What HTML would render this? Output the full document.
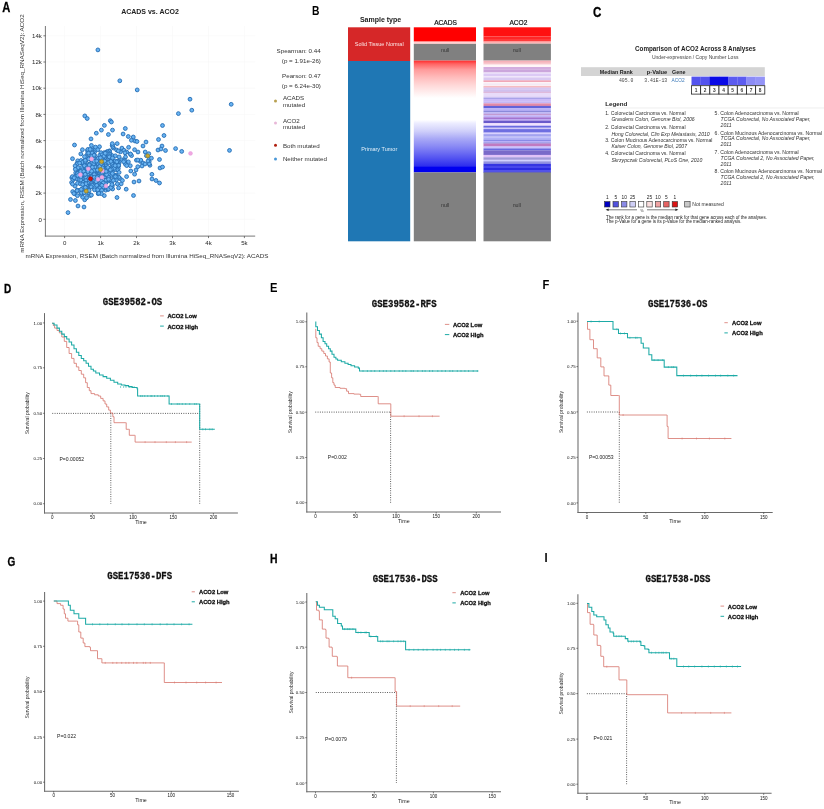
<!DOCTYPE html>
<html lang="en"><head><meta charset="utf-8"><title>ACO2 figure</title>
<style>html,body{margin:0;padding:0;background:#fff;}svg{display:block;font-family:"Liberation Sans",sans-serif;}</style>
</head><body>
<svg width="824" height="809" viewBox="0 0 824 809">
<defs><linearGradient id="gA" x1="0" y1="0" x2="0" y2="1">
<stop offset="0" stop-color="#ff2c2c"/>
<stop offset="0.03" stop-color="#ff6464"/>
<stop offset="0.08" stop-color="#ff9a9a"/>
<stop offset="0.15" stop-color="#ffbcbc"/>
<stop offset="0.22" stop-color="#ffd8d8"/>
<stop offset="0.29" stop-color="#fff0f0"/>
<stop offset="0.335" stop-color="#ffffff"/>
<stop offset="0.53" stop-color="#ffffff"/>
<stop offset="0.56" stop-color="#ececff"/>
<stop offset="0.63" stop-color="#d0d0fa"/>
<stop offset="0.7" stop-color="#a8a8f6"/>
<stop offset="0.77" stop-color="#8888f4"/>
<stop offset="0.84" stop-color="#6464f2"/>
<stop offset="0.9" stop-color="#4444f0"/>
<stop offset="0.945" stop-color="#2c2cee"/>
<stop offset="0.952" stop-color="#0000f0"/>
<stop offset="1" stop-color="#0000ee"/>
</linearGradient></defs>
<rect width="824" height="809" fill="#fff"/>
<g id="panelA">
<text transform="translate(2.2,12.1) scale(0.77,1)" font-size="14.5" font-weight="bold" fill="#000" stroke="#000" stroke-width="0.3">A</text>
<text x="150.0" y="14.0" font-size="7" text-anchor="middle" font-weight="bold" fill="#222">ACADS vs. ACO2</text>
<line x1="64.6" y1="26.0" x2="64.6" y2="236.1" stroke="#f6f6f6" stroke-width="0.6"/>
<line x1="100.6" y1="26.0" x2="100.6" y2="236.1" stroke="#f6f6f6" stroke-width="0.6"/>
<line x1="136.5" y1="26.0" x2="136.5" y2="236.1" stroke="#f6f6f6" stroke-width="0.6"/>
<line x1="172.5" y1="26.0" x2="172.5" y2="236.1" stroke="#f6f6f6" stroke-width="0.6"/>
<line x1="208.5" y1="26.0" x2="208.5" y2="236.1" stroke="#f6f6f6" stroke-width="0.6"/>
<line x1="244.4" y1="26.0" x2="244.4" y2="236.1" stroke="#f6f6f6" stroke-width="0.6"/>
<line x1="45.4" y1="219.3" x2="255.2" y2="219.3" stroke="#f6f6f6" stroke-width="0.6"/>
<line x1="45.4" y1="193.1" x2="255.2" y2="193.1" stroke="#f6f6f6" stroke-width="0.6"/>
<line x1="45.4" y1="166.9" x2="255.2" y2="166.9" stroke="#f6f6f6" stroke-width="0.6"/>
<line x1="45.4" y1="140.6" x2="255.2" y2="140.6" stroke="#f6f6f6" stroke-width="0.6"/>
<line x1="45.4" y1="114.4" x2="255.2" y2="114.4" stroke="#f6f6f6" stroke-width="0.6"/>
<line x1="45.4" y1="88.2" x2="255.2" y2="88.2" stroke="#f6f6f6" stroke-width="0.6"/>
<line x1="45.4" y1="62.0" x2="255.2" y2="62.0" stroke="#f6f6f6" stroke-width="0.6"/>
<line x1="45.4" y1="35.8" x2="255.2" y2="35.8" stroke="#f6f6f6" stroke-width="0.6"/>
<line x1="45.4" y1="26.0" x2="45.4" y2="236.6" stroke="#606060" stroke-width="0.85"/>
<line x1="44.9" y1="236.1" x2="255.2" y2="236.1" stroke="#606060" stroke-width="0.85"/>
<line x1="43.4" y1="219.3" x2="45.4" y2="219.3" stroke="#444" stroke-width="0.7"/>
<text x="41.9" y="221.5" font-size="6.1" text-anchor="end" fill="#2a2a2a">0</text>
<line x1="43.4" y1="193.1" x2="45.4" y2="193.1" stroke="#444" stroke-width="0.7"/>
<text x="41.9" y="195.3" font-size="6.1" text-anchor="end" fill="#2a2a2a">2k</text>
<line x1="43.4" y1="166.9" x2="45.4" y2="166.9" stroke="#444" stroke-width="0.7"/>
<text x="41.9" y="169.1" font-size="6.1" text-anchor="end" fill="#2a2a2a">4k</text>
<line x1="43.4" y1="140.6" x2="45.4" y2="140.6" stroke="#444" stroke-width="0.7"/>
<text x="41.9" y="142.8" font-size="6.1" text-anchor="end" fill="#2a2a2a">6k</text>
<line x1="43.4" y1="114.4" x2="45.4" y2="114.4" stroke="#444" stroke-width="0.7"/>
<text x="41.9" y="116.6" font-size="6.1" text-anchor="end" fill="#2a2a2a">8k</text>
<line x1="43.4" y1="88.2" x2="45.4" y2="88.2" stroke="#444" stroke-width="0.7"/>
<text x="41.9" y="90.4" font-size="6.1" text-anchor="end" fill="#2a2a2a">10k</text>
<line x1="43.4" y1="62.0" x2="45.4" y2="62.0" stroke="#444" stroke-width="0.7"/>
<text x="41.9" y="64.2" font-size="6.1" text-anchor="end" fill="#2a2a2a">12k</text>
<line x1="43.4" y1="35.8" x2="45.4" y2="35.8" stroke="#444" stroke-width="0.7"/>
<text x="41.9" y="38.0" font-size="6.1" text-anchor="end" fill="#2a2a2a">14k</text>
<line x1="64.6" y1="236.1" x2="64.6" y2="238.1" stroke="#444" stroke-width="0.7"/>
<text x="64.6" y="244.7" font-size="6.1" text-anchor="middle" fill="#2a2a2a">0</text>
<line x1="100.6" y1="236.1" x2="100.6" y2="238.1" stroke="#444" stroke-width="0.7"/>
<text x="100.6" y="244.7" font-size="6.1" text-anchor="middle" fill="#2a2a2a">1k</text>
<line x1="136.5" y1="236.1" x2="136.5" y2="238.1" stroke="#444" stroke-width="0.7"/>
<text x="136.5" y="244.7" font-size="6.1" text-anchor="middle" fill="#2a2a2a">2k</text>
<line x1="172.5" y1="236.1" x2="172.5" y2="238.1" stroke="#444" stroke-width="0.7"/>
<text x="172.5" y="244.7" font-size="6.1" text-anchor="middle" fill="#2a2a2a">3k</text>
<line x1="208.5" y1="236.1" x2="208.5" y2="238.1" stroke="#444" stroke-width="0.7"/>
<text x="208.5" y="244.7" font-size="6.1" text-anchor="middle" fill="#2a2a2a">4k</text>
<line x1="244.4" y1="236.1" x2="244.4" y2="238.1" stroke="#444" stroke-width="0.7"/>
<text x="244.4" y="244.7" font-size="6.1" text-anchor="middle" fill="#2a2a2a">5k</text>
<text x="147.0" y="257.8" font-size="6.25" text-anchor="middle" fill="#333">mRNA Expression, RSEM (Batch normalized from Illumina HiSeq_RNASeqV2): ACADS</text>
<text transform="translate(23.6,133.5) rotate(-90)" font-size="6.25" text-anchor="middle" fill="#333">mRNA Expression, RSEM (Batch normalized from Illumina HiSeq_RNASeqV2): ACO2</text>
<g fill="#68b3f2" stroke="#2a71b6" stroke-width="0.95">
<circle cx="77.5" cy="183.3" r="1.9"/>
<circle cx="111.9" cy="161.0" r="1.9"/>
<circle cx="75.9" cy="177.8" r="1.9"/>
<circle cx="103.9" cy="185.2" r="1.9"/>
<circle cx="77.7" cy="160.8" r="1.9"/>
<circle cx="107.4" cy="175.7" r="1.9"/>
<circle cx="120.3" cy="178.7" r="1.9"/>
<circle cx="94.9" cy="169.3" r="1.9"/>
<circle cx="84.3" cy="160.8" r="1.9"/>
<circle cx="98.0" cy="174.1" r="1.9"/>
<circle cx="91.2" cy="173.3" r="1.9"/>
<circle cx="100.7" cy="180.6" r="1.9"/>
<circle cx="113.5" cy="170.3" r="1.9"/>
<circle cx="74.5" cy="176.8" r="1.9"/>
<circle cx="73.7" cy="179.4" r="1.9"/>
<circle cx="84.4" cy="179.1" r="1.9"/>
<circle cx="109.6" cy="150.8" r="1.9"/>
<circle cx="92.0" cy="182.8" r="1.9"/>
<circle cx="95.1" cy="178.0" r="1.9"/>
<circle cx="98.1" cy="158.5" r="1.9"/>
<circle cx="105.2" cy="159.0" r="1.9"/>
<circle cx="125.5" cy="157.0" r="1.9"/>
<circle cx="107.1" cy="169.4" r="1.9"/>
<circle cx="111.3" cy="160.0" r="1.9"/>
<circle cx="112.0" cy="166.2" r="1.9"/>
<circle cx="116.1" cy="175.1" r="1.9"/>
<circle cx="98.7" cy="161.4" r="1.9"/>
<circle cx="108.4" cy="175.3" r="1.9"/>
<circle cx="121.9" cy="159.8" r="1.9"/>
<circle cx="105.1" cy="176.8" r="1.9"/>
<circle cx="100.9" cy="174.0" r="1.9"/>
<circle cx="99.3" cy="163.6" r="1.9"/>
<circle cx="80.8" cy="171.9" r="1.9"/>
<circle cx="105.7" cy="190.2" r="1.9"/>
<circle cx="111.6" cy="182.2" r="1.9"/>
<circle cx="108.5" cy="178.4" r="1.9"/>
<circle cx="99.3" cy="182.1" r="1.9"/>
<circle cx="124.0" cy="159.9" r="1.9"/>
<circle cx="100.3" cy="184.5" r="1.9"/>
<circle cx="110.0" cy="153.2" r="1.9"/>
<circle cx="99.2" cy="181.9" r="1.9"/>
<circle cx="98.5" cy="160.0" r="1.9"/>
<circle cx="94.8" cy="178.1" r="1.9"/>
<circle cx="113.8" cy="176.9" r="1.9"/>
<circle cx="97.4" cy="190.6" r="1.9"/>
<circle cx="84.7" cy="186.8" r="1.9"/>
<circle cx="113.7" cy="163.4" r="1.9"/>
<circle cx="100.2" cy="178.6" r="1.9"/>
<circle cx="120.5" cy="151.8" r="1.9"/>
<circle cx="96.5" cy="181.3" r="1.9"/>
<circle cx="112.1" cy="155.5" r="1.9"/>
<circle cx="90.1" cy="177.5" r="1.9"/>
<circle cx="98.3" cy="193.0" r="1.9"/>
<circle cx="85.9" cy="169.3" r="1.9"/>
<circle cx="107.7" cy="188.4" r="1.9"/>
<circle cx="106.6" cy="173.6" r="1.9"/>
<circle cx="87.0" cy="168.2" r="1.9"/>
<circle cx="105.6" cy="165.3" r="1.9"/>
<circle cx="108.7" cy="170.0" r="1.9"/>
<circle cx="91.3" cy="175.7" r="1.9"/>
<circle cx="103.1" cy="182.1" r="1.9"/>
<circle cx="89.1" cy="171.6" r="1.9"/>
<circle cx="75.4" cy="200.5" r="1.9"/>
<circle cx="119.0" cy="163.4" r="1.9"/>
<circle cx="89.1" cy="158.1" r="1.9"/>
<circle cx="99.1" cy="174.5" r="1.9"/>
<circle cx="130.3" cy="165.7" r="1.9"/>
<circle cx="118.3" cy="168.6" r="1.9"/>
<circle cx="71.6" cy="182.5" r="1.9"/>
<circle cx="113.8" cy="175.1" r="1.9"/>
<circle cx="94.5" cy="152.2" r="1.9"/>
<circle cx="82.4" cy="193.2" r="1.9"/>
<circle cx="122.0" cy="149.0" r="1.9"/>
<circle cx="72.7" cy="191.6" r="1.9"/>
<circle cx="109.7" cy="155.3" r="1.9"/>
<circle cx="85.7" cy="166.4" r="1.9"/>
<circle cx="78.1" cy="168.9" r="1.9"/>
<circle cx="115.9" cy="176.0" r="1.9"/>
<circle cx="128.4" cy="161.8" r="1.9"/>
<circle cx="94.4" cy="159.9" r="1.9"/>
<circle cx="94.6" cy="155.4" r="1.9"/>
<circle cx="118.8" cy="177.2" r="1.9"/>
<circle cx="117.2" cy="169.8" r="1.9"/>
<circle cx="85.4" cy="177.1" r="1.9"/>
<circle cx="90.7" cy="159.3" r="1.9"/>
<circle cx="96.4" cy="174.6" r="1.9"/>
<circle cx="89.1" cy="194.0" r="1.9"/>
<circle cx="99.3" cy="179.6" r="1.9"/>
<circle cx="115.4" cy="155.8" r="1.9"/>
<circle cx="85.8" cy="193.4" r="1.9"/>
<circle cx="101.7" cy="184.6" r="1.9"/>
<circle cx="107.6" cy="160.1" r="1.9"/>
<circle cx="84.8" cy="170.2" r="1.9"/>
<circle cx="108.4" cy="180.9" r="1.9"/>
<circle cx="112.2" cy="145.4" r="1.9"/>
<circle cx="94.9" cy="181.1" r="1.9"/>
<circle cx="84.7" cy="179.4" r="1.9"/>
<circle cx="100.1" cy="185.1" r="1.9"/>
<circle cx="83.8" cy="165.2" r="1.9"/>
<circle cx="84.7" cy="199.8" r="1.9"/>
<circle cx="113.4" cy="165.8" r="1.9"/>
<circle cx="100.0" cy="173.0" r="1.9"/>
<circle cx="99.6" cy="168.8" r="1.9"/>
<circle cx="91.3" cy="157.1" r="1.9"/>
<circle cx="86.6" cy="197.8" r="1.9"/>
<circle cx="104.8" cy="170.9" r="1.9"/>
<circle cx="93.2" cy="174.4" r="1.9"/>
<circle cx="102.0" cy="162.2" r="1.9"/>
<circle cx="99.5" cy="174.9" r="1.9"/>
<circle cx="84.9" cy="165.4" r="1.9"/>
<circle cx="81.0" cy="162.8" r="1.9"/>
<circle cx="92.4" cy="165.5" r="1.9"/>
<circle cx="86.9" cy="176.7" r="1.9"/>
<circle cx="114.0" cy="168.3" r="1.9"/>
<circle cx="94.3" cy="164.9" r="1.9"/>
<circle cx="94.5" cy="185.5" r="1.9"/>
<circle cx="90.4" cy="158.9" r="1.9"/>
<circle cx="76.9" cy="163.5" r="1.9"/>
<circle cx="75.0" cy="193.9" r="1.9"/>
<circle cx="102.0" cy="167.7" r="1.9"/>
<circle cx="119.1" cy="156.9" r="1.9"/>
<circle cx="108.2" cy="179.9" r="1.9"/>
<circle cx="72.5" cy="158.7" r="1.9"/>
<circle cx="82.1" cy="189.1" r="1.9"/>
<circle cx="116.6" cy="150.0" r="1.9"/>
<circle cx="112.8" cy="162.5" r="1.9"/>
<circle cx="90.4" cy="166.9" r="1.9"/>
<circle cx="91.5" cy="149.5" r="1.9"/>
<circle cx="81.0" cy="160.5" r="1.9"/>
<circle cx="105.4" cy="160.1" r="1.9"/>
<circle cx="111.0" cy="175.4" r="1.9"/>
<circle cx="92.8" cy="173.9" r="1.9"/>
<circle cx="98.5" cy="167.4" r="1.9"/>
<circle cx="99.4" cy="163.8" r="1.9"/>
<circle cx="82.6" cy="197.2" r="1.9"/>
<circle cx="102.1" cy="176.8" r="1.9"/>
<circle cx="71.8" cy="177.7" r="1.9"/>
<circle cx="109.2" cy="151.3" r="1.9"/>
<circle cx="113.5" cy="162.2" r="1.9"/>
<circle cx="102.7" cy="168.9" r="1.9"/>
<circle cx="99.9" cy="187.8" r="1.9"/>
<circle cx="90.2" cy="195.5" r="1.9"/>
<circle cx="84.4" cy="163.6" r="1.9"/>
<circle cx="107.5" cy="154.9" r="1.9"/>
<circle cx="90.8" cy="186.5" r="1.9"/>
<circle cx="104.3" cy="195.6" r="1.9"/>
<circle cx="115.0" cy="163.8" r="1.9"/>
<circle cx="87.2" cy="171.3" r="1.9"/>
<circle cx="78.6" cy="174.3" r="1.9"/>
<circle cx="93.6" cy="171.5" r="1.9"/>
<circle cx="114.8" cy="163.9" r="1.9"/>
<circle cx="73.9" cy="193.5" r="1.9"/>
<circle cx="79.9" cy="171.5" r="1.9"/>
<circle cx="94.4" cy="168.5" r="1.9"/>
<circle cx="81.0" cy="173.9" r="1.9"/>
<circle cx="130.4" cy="154.2" r="1.9"/>
<circle cx="94.4" cy="188.4" r="1.9"/>
<circle cx="108.0" cy="179.4" r="1.9"/>
<circle cx="83.1" cy="178.3" r="1.9"/>
<circle cx="104.2" cy="187.7" r="1.9"/>
<circle cx="103.8" cy="167.1" r="1.9"/>
<circle cx="97.1" cy="169.5" r="1.9"/>
<circle cx="100.3" cy="180.5" r="1.9"/>
<circle cx="91.2" cy="163.1" r="1.9"/>
<circle cx="83.3" cy="191.3" r="1.9"/>
<circle cx="116.4" cy="180.0" r="1.9"/>
<circle cx="109.8" cy="179.8" r="1.9"/>
<circle cx="96.5" cy="181.5" r="1.9"/>
<circle cx="80.2" cy="174.7" r="1.9"/>
<circle cx="85.1" cy="185.8" r="1.9"/>
<circle cx="87.5" cy="173.8" r="1.9"/>
<circle cx="102.7" cy="189.0" r="1.9"/>
<circle cx="84.2" cy="163.6" r="1.9"/>
<circle cx="109.2" cy="153.8" r="1.9"/>
<circle cx="103.5" cy="162.8" r="1.9"/>
<circle cx="94.9" cy="148.5" r="1.9"/>
<circle cx="107.6" cy="162.5" r="1.9"/>
<circle cx="102.8" cy="166.0" r="1.9"/>
<circle cx="98.2" cy="193.7" r="1.9"/>
<circle cx="96.1" cy="178.8" r="1.9"/>
<circle cx="104.5" cy="157.9" r="1.9"/>
<circle cx="98.5" cy="165.2" r="1.9"/>
<circle cx="77.2" cy="190.1" r="1.9"/>
<circle cx="106.8" cy="170.5" r="1.9"/>
<circle cx="82.4" cy="149.7" r="1.9"/>
<circle cx="104.0" cy="169.0" r="1.9"/>
<circle cx="72.9" cy="179.3" r="1.9"/>
<circle cx="98.7" cy="176.7" r="1.9"/>
<circle cx="99.9" cy="173.8" r="1.9"/>
<circle cx="78.8" cy="172.7" r="1.9"/>
<circle cx="88.6" cy="171.7" r="1.9"/>
<circle cx="100.7" cy="179.7" r="1.9"/>
<circle cx="102.7" cy="168.0" r="1.9"/>
<circle cx="88.4" cy="188.4" r="1.9"/>
<circle cx="80.1" cy="176.1" r="1.9"/>
<circle cx="94.5" cy="171.9" r="1.9"/>
<circle cx="87.4" cy="150.5" r="1.9"/>
<circle cx="103.6" cy="183.9" r="1.9"/>
<circle cx="95.4" cy="159.1" r="1.9"/>
<circle cx="99.6" cy="179.2" r="1.9"/>
<circle cx="93.8" cy="173.2" r="1.9"/>
<circle cx="118.3" cy="150.9" r="1.9"/>
<circle cx="87.9" cy="149.4" r="1.9"/>
<circle cx="85.7" cy="165.8" r="1.9"/>
<circle cx="81.6" cy="167.6" r="1.9"/>
<circle cx="124.4" cy="161.5" r="1.9"/>
<circle cx="95.6" cy="149.4" r="1.9"/>
<circle cx="102.7" cy="158.0" r="1.9"/>
<circle cx="121.9" cy="148.1" r="1.9"/>
<circle cx="87.5" cy="153.6" r="1.9"/>
<circle cx="98.0" cy="158.4" r="1.9"/>
<circle cx="95.5" cy="167.8" r="1.9"/>
<circle cx="87.0" cy="188.1" r="1.9"/>
<circle cx="111.0" cy="169.0" r="1.9"/>
<circle cx="82.5" cy="162.3" r="1.9"/>
<circle cx="89.4" cy="164.1" r="1.9"/>
<circle cx="85.7" cy="161.0" r="1.9"/>
<circle cx="81.4" cy="174.3" r="1.9"/>
<circle cx="118.7" cy="165.9" r="1.9"/>
<circle cx="88.6" cy="153.1" r="1.9"/>
<circle cx="99.8" cy="171.2" r="1.9"/>
<circle cx="77.5" cy="163.6" r="1.9"/>
<circle cx="95.8" cy="186.4" r="1.9"/>
<circle cx="106.2" cy="172.4" r="1.9"/>
<circle cx="91.5" cy="178.4" r="1.9"/>
<circle cx="78.9" cy="172.8" r="1.9"/>
<circle cx="116.2" cy="163.1" r="1.9"/>
<circle cx="118.6" cy="165.3" r="1.9"/>
<circle cx="98.8" cy="166.9" r="1.9"/>
<circle cx="75.1" cy="165.9" r="1.9"/>
<circle cx="130.8" cy="171.0" r="1.9"/>
<circle cx="105.9" cy="182.6" r="1.9"/>
<circle cx="105.3" cy="183.7" r="1.9"/>
<circle cx="92.4" cy="170.8" r="1.9"/>
<circle cx="111.7" cy="163.2" r="1.9"/>
<circle cx="75.9" cy="175.7" r="1.9"/>
<circle cx="88.1" cy="183.4" r="1.9"/>
<circle cx="85.3" cy="161.6" r="1.9"/>
<circle cx="91.4" cy="195.1" r="1.9"/>
<circle cx="95.8" cy="174.9" r="1.9"/>
<circle cx="96.6" cy="176.5" r="1.9"/>
<circle cx="110.9" cy="187.1" r="1.9"/>
<circle cx="96.4" cy="168.2" r="1.9"/>
<circle cx="126.6" cy="176.6" r="1.9"/>
<circle cx="80.5" cy="183.9" r="1.9"/>
<circle cx="107.9" cy="167.4" r="1.9"/>
<circle cx="93.5" cy="158.5" r="1.9"/>
<circle cx="124.8" cy="160.8" r="1.9"/>
<circle cx="90.4" cy="170.3" r="1.9"/>
<circle cx="84.4" cy="165.7" r="1.9"/>
<circle cx="98.0" cy="176.3" r="1.9"/>
<circle cx="88.6" cy="173.7" r="1.9"/>
<circle cx="75.0" cy="186.1" r="1.9"/>
<circle cx="84.9" cy="178.9" r="1.9"/>
<circle cx="82.4" cy="169.8" r="1.9"/>
<circle cx="99.8" cy="155.2" r="1.9"/>
<circle cx="95.4" cy="163.0" r="1.9"/>
<circle cx="121.2" cy="183.8" r="1.9"/>
<circle cx="101.1" cy="152.7" r="1.9"/>
<circle cx="88.7" cy="183.2" r="1.9"/>
<circle cx="88.6" cy="158.9" r="1.9"/>
<circle cx="78.1" cy="167.7" r="1.9"/>
<circle cx="96.7" cy="163.7" r="1.9"/>
<circle cx="124.0" cy="150.3" r="1.9"/>
<circle cx="101.8" cy="172.1" r="1.9"/>
<circle cx="94.4" cy="187.3" r="1.9"/>
<circle cx="91.4" cy="169.7" r="1.9"/>
<circle cx="90.7" cy="172.9" r="1.9"/>
<circle cx="116.4" cy="177.1" r="1.9"/>
<circle cx="75.7" cy="172.8" r="1.9"/>
<circle cx="84.1" cy="187.3" r="1.9"/>
<circle cx="100.0" cy="183.5" r="1.9"/>
<circle cx="95.5" cy="147.1" r="1.9"/>
<circle cx="103.5" cy="173.5" r="1.9"/>
<circle cx="104.4" cy="152.6" r="1.9"/>
<circle cx="97.8" cy="162.9" r="1.9"/>
<circle cx="85.9" cy="180.5" r="1.9"/>
<circle cx="102.0" cy="158.9" r="1.9"/>
<circle cx="87.6" cy="190.4" r="1.9"/>
<circle cx="83.1" cy="182.3" r="1.9"/>
<circle cx="122.4" cy="180.5" r="1.9"/>
<circle cx="102.2" cy="173.5" r="1.9"/>
<circle cx="80.1" cy="171.4" r="1.9"/>
<circle cx="91.3" cy="163.6" r="1.9"/>
<circle cx="97.5" cy="167.0" r="1.9"/>
<circle cx="101.7" cy="190.3" r="1.9"/>
<circle cx="108.0" cy="174.7" r="1.9"/>
<circle cx="92.8" cy="153.2" r="1.9"/>
<circle cx="94.7" cy="180.4" r="1.9"/>
<circle cx="80.9" cy="194.2" r="1.9"/>
<circle cx="91.3" cy="179.1" r="1.9"/>
<circle cx="91.4" cy="157.1" r="1.9"/>
<circle cx="128.6" cy="147.3" r="1.9"/>
<circle cx="110.7" cy="160.8" r="1.9"/>
<circle cx="100.8" cy="160.4" r="1.9"/>
<circle cx="90.0" cy="186.9" r="1.9"/>
<circle cx="126.7" cy="152.1" r="1.9"/>
<circle cx="96.7" cy="185.3" r="1.9"/>
<circle cx="86.7" cy="185.1" r="1.9"/>
<circle cx="84.3" cy="184.4" r="1.9"/>
<circle cx="103.3" cy="186.9" r="1.9"/>
<circle cx="102.1" cy="154.8" r="1.9"/>
<circle cx="106.8" cy="154.6" r="1.9"/>
<circle cx="108.1" cy="189.5" r="1.9"/>
<circle cx="105.7" cy="162.3" r="1.9"/>
<circle cx="115.0" cy="169.3" r="1.9"/>
<circle cx="77.2" cy="173.6" r="1.9"/>
<circle cx="118.5" cy="161.8" r="1.9"/>
<circle cx="98.4" cy="167.4" r="1.9"/>
<circle cx="102.0" cy="173.7" r="1.9"/>
<circle cx="115.4" cy="176.6" r="1.9"/>
<circle cx="112.4" cy="185.3" r="1.9"/>
<circle cx="89.6" cy="166.5" r="1.9"/>
<circle cx="101.4" cy="193.7" r="1.9"/>
<circle cx="85.4" cy="183.4" r="1.9"/>
<circle cx="119.2" cy="161.7" r="1.9"/>
<circle cx="77.3" cy="179.0" r="1.9"/>
<circle cx="92.1" cy="153.0" r="1.9"/>
<circle cx="110.2" cy="161.4" r="1.9"/>
<circle cx="107.1" cy="151.6" r="1.9"/>
<circle cx="113.5" cy="148.0" r="1.9"/>
<circle cx="117.9" cy="161.1" r="1.9"/>
<circle cx="72.4" cy="176.6" r="1.9"/>
<circle cx="101.7" cy="157.6" r="1.9"/>
<circle cx="88.9" cy="178.5" r="1.9"/>
<circle cx="89.8" cy="180.3" r="1.9"/>
<circle cx="101.1" cy="184.8" r="1.9"/>
<circle cx="108.9" cy="173.0" r="1.9"/>
<circle cx="113.3" cy="180.4" r="1.9"/>
<circle cx="98.1" cy="163.7" r="1.9"/>
<circle cx="112.4" cy="173.5" r="1.9"/>
<circle cx="103.7" cy="171.8" r="1.9"/>
<circle cx="100.8" cy="179.9" r="1.9"/>
<circle cx="98.8" cy="193.2" r="1.9"/>
<circle cx="87.4" cy="169.9" r="1.9"/>
<circle cx="101.5" cy="181.1" r="1.9"/>
<circle cx="108.7" cy="189.0" r="1.9"/>
<circle cx="89.1" cy="190.5" r="1.9"/>
<circle cx="103.8" cy="156.3" r="1.9"/>
<circle cx="108.7" cy="162.6" r="1.9"/>
<circle cx="85.6" cy="176.9" r="1.9"/>
<circle cx="101.4" cy="158.5" r="1.9"/>
<circle cx="78.1" cy="175.3" r="1.9"/>
<circle cx="90.2" cy="166.1" r="1.9"/>
<circle cx="114.0" cy="168.3" r="1.9"/>
<circle cx="77.4" cy="195.7" r="1.9"/>
<circle cx="91.7" cy="156.1" r="1.9"/>
<circle cx="101.5" cy="177.6" r="1.9"/>
<circle cx="91.3" cy="183.5" r="1.9"/>
<circle cx="109.2" cy="156.8" r="1.9"/>
<circle cx="94.5" cy="189.8" r="1.9"/>
<circle cx="112.0" cy="186.7" r="1.9"/>
<circle cx="125.3" cy="164.1" r="1.9"/>
<circle cx="112.9" cy="147.0" r="1.9"/>
<circle cx="107.2" cy="174.6" r="1.9"/>
<circle cx="95.0" cy="167.0" r="1.9"/>
<circle cx="79.2" cy="179.6" r="1.9"/>
<circle cx="116.3" cy="161.7" r="1.9"/>
<circle cx="104.7" cy="161.1" r="1.9"/>
<circle cx="100.4" cy="157.8" r="1.9"/>
<circle cx="102.4" cy="167.8" r="1.9"/>
<circle cx="101.4" cy="162.9" r="1.9"/>
<circle cx="78.3" cy="173.6" r="1.9"/>
<circle cx="112.6" cy="189.0" r="1.9"/>
<circle cx="91.5" cy="184.9" r="1.9"/>
<circle cx="108.3" cy="174.3" r="1.9"/>
<circle cx="72.5" cy="184.1" r="1.9"/>
<circle cx="81.5" cy="192.9" r="1.9"/>
<circle cx="108.7" cy="177.2" r="1.9"/>
<circle cx="107.3" cy="152.0" r="1.9"/>
<circle cx="111.5" cy="169.1" r="1.9"/>
<circle cx="93.7" cy="163.8" r="1.9"/>
<circle cx="80.7" cy="171.4" r="1.9"/>
<circle cx="99.7" cy="162.8" r="1.9"/>
<circle cx="86.9" cy="168.0" r="1.9"/>
<circle cx="82.8" cy="188.5" r="1.9"/>
<circle cx="92.3" cy="185.5" r="1.9"/>
<circle cx="78.6" cy="190.5" r="1.9"/>
<circle cx="96.1" cy="181.7" r="1.9"/>
<circle cx="94.9" cy="161.0" r="1.9"/>
<circle cx="115.3" cy="161.0" r="1.9"/>
<circle cx="94.2" cy="161.3" r="1.9"/>
<circle cx="99.7" cy="166.3" r="1.9"/>
<circle cx="100.9" cy="175.9" r="1.9"/>
<circle cx="85.8" cy="156.7" r="1.9"/>
<circle cx="103.2" cy="182.9" r="1.9"/>
<circle cx="107.3" cy="153.8" r="1.9"/>
<circle cx="105.9" cy="174.9" r="1.9"/>
<circle cx="100.9" cy="177.0" r="1.9"/>
<circle cx="91.5" cy="177.0" r="1.9"/>
<circle cx="110.9" cy="161.4" r="1.9"/>
<circle cx="74.2" cy="177.8" r="1.9"/>
<circle cx="99.5" cy="146.7" r="1.9"/>
<circle cx="86.0" cy="183.7" r="1.9"/>
<circle cx="94.2" cy="174.5" r="1.9"/>
<circle cx="77.0" cy="190.6" r="1.9"/>
<circle cx="123.7" cy="161.7" r="1.9"/>
<circle cx="85.2" cy="160.3" r="1.9"/>
<circle cx="110.3" cy="169.8" r="1.9"/>
<circle cx="84.2" cy="192.6" r="1.9"/>
<circle cx="108.4" cy="177.1" r="1.9"/>
<circle cx="106.2" cy="153.1" r="1.9"/>
<circle cx="110.9" cy="187.5" r="1.9"/>
<circle cx="112.5" cy="158.0" r="1.9"/>
<circle cx="85.5" cy="188.6" r="1.9"/>
<circle cx="111.9" cy="184.5" r="1.9"/>
<circle cx="115.1" cy="165.6" r="1.9"/>
<circle cx="90.1" cy="149.4" r="1.9"/>
<circle cx="89.3" cy="168.3" r="1.9"/>
<circle cx="106.6" cy="174.6" r="1.9"/>
<circle cx="75.3" cy="169.3" r="1.9"/>
<circle cx="85.4" cy="187.4" r="1.9"/>
<circle cx="126.2" cy="189.2" r="1.9"/>
<circle cx="118.6" cy="187.9" r="1.9"/>
<circle cx="77.4" cy="173.6" r="1.9"/>
<circle cx="85.2" cy="172.0" r="1.9"/>
<circle cx="105.2" cy="153.3" r="1.9"/>
<circle cx="117.3" cy="183.9" r="1.9"/>
<circle cx="97.7" cy="189.8" r="1.9"/>
<circle cx="101.3" cy="163.5" r="1.9"/>
<circle cx="90.6" cy="172.7" r="1.9"/>
<circle cx="106.1" cy="171.4" r="1.9"/>
<circle cx="89.3" cy="165.0" r="1.9"/>
<circle cx="84.5" cy="156.7" r="1.9"/>
<circle cx="81.2" cy="189.4" r="1.9"/>
<circle cx="97.4" cy="170.0" r="1.9"/>
<circle cx="101.9" cy="185.3" r="1.9"/>
<circle cx="106.0" cy="180.1" r="1.9"/>
<circle cx="87.8" cy="171.6" r="1.9"/>
<circle cx="84.5" cy="174.9" r="1.9"/>
<circle cx="83.8" cy="171.3" r="1.9"/>
<circle cx="93.8" cy="170.4" r="1.9"/>
<circle cx="92.4" cy="167.2" r="1.9"/>
<circle cx="116.8" cy="161.8" r="1.9"/>
<circle cx="80.8" cy="179.9" r="1.9"/>
<circle cx="79.6" cy="163.1" r="1.9"/>
<circle cx="97.8" cy="149.7" r="1.9"/>
<circle cx="112.5" cy="145.2" r="1.9"/>
<circle cx="82.6" cy="184.5" r="1.9"/>
<circle cx="77.8" cy="175.5" r="1.9"/>
<circle cx="94.3" cy="177.3" r="1.9"/>
<circle cx="91.4" cy="145.4" r="1.9"/>
<circle cx="94.1" cy="155.2" r="1.9"/>
<circle cx="96.7" cy="161.0" r="1.9"/>
<circle cx="91.6" cy="171.2" r="1.9"/>
<circle cx="108.5" cy="179.3" r="1.9"/>
<circle cx="80.9" cy="177.0" r="1.9"/>
<circle cx="119.1" cy="172.4" r="1.9"/>
<circle cx="85.2" cy="174.3" r="1.9"/>
<circle cx="91.1" cy="186.9" r="1.9"/>
<circle cx="97.0" cy="177.5" r="1.9"/>
<circle cx="80.8" cy="153.9" r="1.9"/>
<circle cx="136.4" cy="160.2" r="1.9"/>
<circle cx="145.2" cy="152.0" r="1.9"/>
<circle cx="140.3" cy="161.4" r="1.9"/>
<circle cx="146.4" cy="155.7" r="1.9"/>
<circle cx="128.3" cy="136.5" r="1.9"/>
<circle cx="125.0" cy="152.8" r="1.9"/>
<circle cx="131.6" cy="155.6" r="1.9"/>
<circle cx="126.7" cy="165.6" r="1.9"/>
<circle cx="149.2" cy="161.6" r="1.9"/>
<circle cx="134.6" cy="149.7" r="1.9"/>
<circle cx="140.8" cy="160.2" r="1.9"/>
<circle cx="149.3" cy="158.6" r="1.9"/>
<circle cx="133.3" cy="137.0" r="1.9"/>
<circle cx="151.4" cy="158.2" r="1.9"/>
<circle cx="137.8" cy="160.0" r="1.9"/>
<circle cx="149.9" cy="165.3" r="1.9"/>
<circle cx="149.2" cy="163.8" r="1.9"/>
<circle cx="134.6" cy="174.2" r="1.9"/>
<circle cx="137.8" cy="166.7" r="1.9"/>
<circle cx="151.9" cy="174.3" r="1.9"/>
<circle cx="130.5" cy="154.0" r="1.9"/>
<circle cx="148.8" cy="153.7" r="1.9"/>
<circle cx="84.8" cy="115.9" r="1.9"/>
<circle cx="87.2" cy="118.5" r="1.9"/>
<circle cx="110.3" cy="120.7" r="1.9"/>
<circle cx="111.4" cy="122.0" r="1.9"/>
<circle cx="104.4" cy="125.4" r="1.9"/>
<circle cx="101.4" cy="130.1" r="1.9"/>
<circle cx="112.5" cy="130.1" r="1.9"/>
<circle cx="96.3" cy="133.2" r="1.9"/>
<circle cx="108.4" cy="134.5" r="1.9"/>
<circle cx="125.3" cy="128.5" r="1.9"/>
<circle cx="123.1" cy="134.0" r="1.9"/>
<circle cx="91.0" cy="138.9" r="1.9"/>
<circle cx="112.3" cy="143.6" r="1.9"/>
<circle cx="117.2" cy="143.6" r="1.9"/>
<circle cx="131.4" cy="140.3" r="1.9"/>
<circle cx="74.5" cy="145.0" r="1.9"/>
<circle cx="135.0" cy="141.0" r="1.9"/>
<circle cx="137.0" cy="141.5" r="1.9"/>
<circle cx="162.5" cy="125.5" r="1.9"/>
<circle cx="164.0" cy="135.5" r="1.9"/>
<circle cx="158.5" cy="139.5" r="1.9"/>
<circle cx="162.0" cy="146.0" r="1.9"/>
<circle cx="158.0" cy="150.0" r="1.9"/>
<circle cx="161.0" cy="149.0" r="1.9"/>
<circle cx="165.5" cy="150.5" r="1.9"/>
<circle cx="175.6" cy="148.6" r="1.9"/>
<circle cx="181.7" cy="151.4" r="1.9"/>
<circle cx="159.5" cy="159.5" r="1.9"/>
<circle cx="160.0" cy="168.0" r="1.9"/>
<circle cx="162.5" cy="167.0" r="1.9"/>
<circle cx="152.0" cy="179.0" r="1.9"/>
<circle cx="156.0" cy="180.5" r="1.9"/>
<circle cx="159.5" cy="183.0" r="1.9"/>
<circle cx="133.5" cy="195.5" r="1.9"/>
<circle cx="117.0" cy="197.5" r="1.9"/>
<circle cx="78.0" cy="206.0" r="1.9"/>
<circle cx="84.0" cy="207.0" r="1.9"/>
<circle cx="68.0" cy="212.6" r="1.9"/>
<circle cx="70.5" cy="199.5" r="1.9"/>
<circle cx="178.4" cy="113.6" r="1.9"/>
<circle cx="190.0" cy="99.2" r="1.9"/>
<circle cx="191.8" cy="110.2" r="1.9"/>
<circle cx="231.2" cy="104.3" r="1.9"/>
<circle cx="229.5" cy="150.4" r="1.9"/>
<circle cx="97.9" cy="49.9" r="1.9"/>
<circle cx="119.8" cy="80.8" r="1.9"/>
<circle cx="137.2" cy="89.9" r="1.9"/>
<circle cx="143.0" cy="146.0" r="1.9"/>
<circle cx="146.0" cy="142.0" r="1.9"/>
<circle cx="138.0" cy="152.0" r="1.9"/>
<circle cx="143.0" cy="163.0" r="1.9"/>
<circle cx="136.0" cy="170.0" r="1.9"/>
<circle cx="139.0" cy="181.0" r="1.9"/>
<circle cx="142.0" cy="166.0" r="1.9"/>
<circle cx="145.0" cy="164.0" r="1.9"/>
<circle cx="148.0" cy="161.0" r="1.9"/>
<circle cx="134.0" cy="182.0" r="1.9"/>
</g>
<circle cx="190.5" cy="153.4" r="1.9" fill="#f0a8e0" stroke="#e79de0" stroke-width="0.6"/>
<circle cx="91.6" cy="159.0" r="1.9" fill="#f0a8e0" stroke="#e79de0" stroke-width="0.6"/>
<circle cx="88.3" cy="168.8" r="1.9" fill="#f0a8e0" stroke="#e79de0" stroke-width="0.6"/>
<circle cx="102.4" cy="170.8" r="1.9" fill="#f0a8e0" stroke="#e79de0" stroke-width="0.6"/>
<circle cx="102.0" cy="177.3" r="1.9" fill="#f0a8e0" stroke="#e79de0" stroke-width="0.6"/>
<circle cx="98.1" cy="179.3" r="1.9" fill="#f0a8e0" stroke="#e79de0" stroke-width="0.6"/>
<circle cx="80.4" cy="174.7" r="1.9" fill="#f0a8e0" stroke="#e79de0" stroke-width="0.6"/>
<circle cx="106.0" cy="185.9" r="1.9" fill="#f0a8e0" stroke="#e79de0" stroke-width="0.6"/>
<circle cx="147.7" cy="155.8" r="1.9" fill="#c8a832" stroke="#9c8424" stroke-width="0.8"/>
<circle cx="101.6" cy="161.6" r="1.9" fill="#c8a832" stroke="#9c8424" stroke-width="0.8"/>
<circle cx="100.6" cy="169.5" r="1.9" fill="#c8a832" stroke="#9c8424" stroke-width="0.8"/>
<circle cx="86.2" cy="191.1" r="1.9" fill="#c8a832" stroke="#9c8424" stroke-width="0.8"/>
<circle cx="90.5" cy="178.7" r="2.0" fill="#d01515" stroke="#a00000" stroke-width="0.6"/>
<text x="320.6" y="53.2" font-size="6.2" text-anchor="end" fill="#333">Spearman: 0.44</text>
<text x="320.9" y="62.8" font-size="6.2" text-anchor="end" fill="#333">(p = 1.91e-26)</text>
<text x="320.6" y="77.6" font-size="6.2" text-anchor="end" fill="#333">Pearson: 0.47</text>
<text x="320.9" y="87.5" font-size="6.2" text-anchor="end" fill="#333">(p = 6.24e-30)</text>
<circle cx="275.5" cy="101" r="1.5" fill="#b8a050"/>
<text x="282.9" y="100.2" font-size="6.2" fill="#333">ACADS</text>
<text x="282.9" y="106.7" font-size="6.2" fill="#333">mutated</text>
<circle cx="275.5" cy="122.9" r="1.5" fill="#e8b8d8"/>
<text x="282.9" y="122.5" font-size="6.2" fill="#333">ACO2</text>
<text x="282.9" y="128.8" font-size="6.2" fill="#333">mutated</text>
<circle cx="275.5" cy="145.3" r="1.5" fill="#b02010"/>
<text x="282.9" y="147.5" font-size="6.2" fill="#333">Both mutated</text>
<circle cx="275.5" cy="158.9" r="1.5" fill="#4a98d8"/>
<text x="282.9" y="161.1" font-size="6.2" fill="#333">Neither mutated</text>
</g>
<g id="panelB">
<text transform="translate(312.0,14.5) scale(0.86,1)" font-size="12" font-weight="bold" fill="#000">B</text>
<text x="380.5" y="22.4" font-size="7" text-anchor="middle" font-weight="bold" fill="#222">Sample type</text>
<text x="445.5" y="25.1" font-size="6.6" text-anchor="middle" fill="#111" stroke="#111" stroke-width="0.2">ACADS</text>
<text x="518.4" y="25.1" font-size="6.6" text-anchor="middle" fill="#111" stroke="#111" stroke-width="0.2">ACO2</text>
<rect x="348.0" y="27.3" width="62.2" height="33.7" fill="#d62728"/>
<rect x="348.0" y="61.0" width="62.2" height="180.3" fill="#1f77b4"/>
<text x="379.2" y="45.5" font-size="5.5" text-anchor="middle" fill="#fbe6e6">Solid Tissue Normal</text>
<text x="379.2" y="151.2" font-size="5.5" text-anchor="middle" fill="#e2eef8">Primary Tumor</text>
<rect x="413.8" y="27.3" width="62.2" height="13.9" fill="#ff0000"/>
<rect x="413.8" y="41.2" width="62.2" height="0.7" fill="#ff6060"/>
<rect x="413.8" y="41.9" width="62.2" height="2.1" fill="#ffd0d0"/>
<rect x="413.8" y="43.9" width="62.2" height="16.7" fill="#808080"/>
<rect x="413.8" y="60.6" width="62.2" height="111.8" fill="url(#gA)"/>
<rect x="413.8" y="172.4" width="62.2" height="68.9" fill="#808080"/>
<text x="445.1" y="51.9" font-size="5.3" text-anchor="middle" fill="#333">null</text>
<text x="445.1" y="206.8" font-size="5.3" text-anchor="middle" fill="#333">null</text>
<rect x="483.5" y="27.3" width="67.4" height="9.2" fill="#ff1010"/>
<rect x="483.5" y="36.5" width="67.4" height="2.5" fill="#ff2626"/>
<rect x="483.5" y="39.0" width="67.4" height="2.6" fill="#ff3a3a"/>
<rect x="483.5" y="41.6" width="67.4" height="2.1" fill="#ffb0b0"/>
<rect x="483.5" y="43.7" width="67.4" height="16.9" fill="#808080"/>
<rect x="483.5" y="60.6" width="67.4" height="2.3" fill="#f6b2ba"/>
<rect x="483.5" y="62.8" width="67.4" height="1.9" fill="#f9c6cc"/>
<rect x="483.5" y="64.6" width="67.4" height="2.6" fill="#fff6f8"/>
<rect x="483.5" y="67.0" width="67.4" height="2.8" fill="#d3addf"/>
<rect x="483.5" y="69.7" width="67.4" height="2.9" fill="#cba6dc"/>
<rect x="483.5" y="72.5" width="67.4" height="1.1" fill="#f1e8fb"/>
<rect x="483.5" y="73.5" width="67.4" height="3.1" fill="#dccaf5"/>
<rect x="483.5" y="76.4" width="67.4" height="1.1" fill="#f3ecfc"/>
<rect x="483.5" y="77.4" width="67.4" height="3.1" fill="#d9c9f2"/>
<rect x="483.5" y="80.4" width="67.4" height="1.6" fill="#f09fb0"/>
<rect x="483.5" y="81.9" width="67.4" height="2.1" fill="#fdf3f6"/>
<rect x="483.5" y="83.8" width="67.4" height="0.8" fill="#e2d5f6"/>
<rect x="483.5" y="84.5" width="67.4" height="1.9" fill="#fbeef2"/>
<rect x="483.5" y="86.3" width="67.4" height="1.3" fill="#f4a2aa"/>
<rect x="483.5" y="87.5" width="67.4" height="2.4" fill="#d6c6f1"/>
<rect x="483.5" y="89.8" width="67.4" height="2.1" fill="#d0c0ee"/>
<rect x="483.5" y="91.8" width="67.4" height="1.1" fill="#d9a3ca"/>
<rect x="483.5" y="92.7" width="67.4" height="2.6" fill="#e9dbf9"/>
<rect x="483.5" y="95.2" width="67.4" height="2.4" fill="#e4d6f8"/>
<rect x="483.5" y="97.5" width="67.4" height="1.6" fill="#aaa2e9"/>
<rect x="483.5" y="99.0" width="67.4" height="2.6" fill="#c9baf8"/>
<rect x="483.5" y="101.4" width="67.4" height="2.1" fill="#c4b6f6"/>
<rect x="483.5" y="103.4" width="67.4" height="2.6" fill="#e189a9"/>
<rect x="483.5" y="105.9" width="67.4" height="2.3" fill="#6262d9"/>
<rect x="483.5" y="108.1" width="67.4" height="2.9" fill="#b9b1f8"/>
<rect x="483.5" y="110.8" width="67.4" height="1.6" fill="#8a8ada"/>
<rect x="483.5" y="112.3" width="67.4" height="1.6" fill="#bcb2f6"/>
<rect x="483.5" y="113.8" width="67.4" height="1.6" fill="#c29ad1"/>
<rect x="483.5" y="115.3" width="67.4" height="2.1" fill="#c1b1f8"/>
<rect x="483.5" y="117.3" width="67.4" height="2.1" fill="#a274d1"/>
<rect x="483.5" y="119.2" width="67.4" height="1.6" fill="#b9a2f0"/>
<rect x="483.5" y="120.7" width="67.4" height="2.6" fill="#6a5aca"/>
<rect x="483.5" y="123.2" width="67.4" height="2.6" fill="#f0e2ff"/>
<rect x="483.5" y="125.7" width="67.4" height="2.1" fill="#6a6ae1"/>
<rect x="483.5" y="127.7" width="67.4" height="1.6" fill="#d1c9f8"/>
<rect x="483.5" y="129.1" width="67.4" height="3.6" fill="#6e6ee1"/>
<rect x="483.5" y="132.6" width="67.4" height="1.6" fill="#d9d1ff"/>
<rect x="483.5" y="134.1" width="67.4" height="2.6" fill="#a2a2f0"/>
<rect x="483.5" y="136.6" width="67.4" height="1.1" fill="#c4c0fa"/>
<rect x="483.5" y="137.5" width="67.4" height="2.1" fill="#b1b1f8"/>
<rect x="483.5" y="139.5" width="67.4" height="1.6" fill="#8a8ae8"/>
<rect x="483.5" y="141.0" width="67.4" height="1.6" fill="#b9b1f8"/>
<rect x="483.5" y="142.5" width="67.4" height="1.1" fill="#7a7ad9"/>
<rect x="483.5" y="143.5" width="67.4" height="3.1" fill="#c17ac1"/>
<rect x="483.5" y="146.4" width="67.4" height="2.1" fill="#c9c1ff"/>
<rect x="483.5" y="148.4" width="67.4" height="2.1" fill="#6a6ae1"/>
<rect x="483.5" y="150.4" width="67.4" height="4.6" fill="#7a6ac9"/>
<rect x="483.5" y="154.9" width="67.4" height="2.6" fill="#e1c2f8"/>
<rect x="483.5" y="157.3" width="67.4" height="2.6" fill="#a29ad9"/>
<rect x="483.5" y="159.8" width="67.4" height="1.6" fill="#d1d1ff"/>
<rect x="483.5" y="161.3" width="67.4" height="2.6" fill="#9292e1"/>
<rect x="483.5" y="163.8" width="67.4" height="3.1" fill="#3434e2"/>
<rect x="483.5" y="166.7" width="67.4" height="1.3" fill="#4a4af0"/>
<rect x="483.5" y="167.9" width="67.4" height="2.4" fill="#2a2ae0"/>
<rect x="483.5" y="170.2" width="67.4" height="1.3" fill="#3a3ae6"/>
<rect x="483.5" y="171.4" width="67.4" height="1.4" fill="#2424dc"/>
<rect x="483.5" y="172.4" width="67.4" height="68.9" fill="#808080"/>
<text x="516.8" y="51.9" font-size="5.3" text-anchor="middle" fill="#333">null</text>
<text x="516.8" y="206.8" font-size="5.3" text-anchor="middle" fill="#333">null</text>
</g>
<g id="panelC">
<text transform="translate(593.0,17.1) scale(0.77,1)" font-size="15" font-weight="bold" fill="#000" stroke="#000" stroke-width="0.3">C</text>
<text x="695.4" y="50.8" font-size="6.3" text-anchor="middle" font-weight="bold" fill="#222">Comparison of ACO2 Across 8 Analyses</text>
<text x="695.2" y="58.8" font-size="5.0" text-anchor="middle" fill="#444">Under-expression / Copy Number Loss</text>
<rect x="581.0" y="67.2" width="183.8" height="8.8" fill="#d4d4d4"/>
<text x="632.8" y="73.5" font-size="5.35" text-anchor="end" font-weight="bold" fill="#222">Median Rank</text>
<text x="667.2" y="73.7" font-size="5.75" text-anchor="end" font-weight="bold" fill="#222">p-Value</text>
<text x="672.0" y="73.5" font-size="5.35" font-weight="bold" fill="#222">Gene</text>
<text x="633.3" y="82.0" font-size="4.8" text-anchor="end" font-family='"Liberation Mono", monospace' fill="#444">405.0</text>
<text x="667.2" y="82.0" font-size="4.8" text-anchor="end" font-family='"Liberation Mono", monospace' fill="#444">3.41E-13</text>
<text x="671.6" y="82.0" font-size="4.8" fill="#3a78b8">ACO2</text>
<rect x="691.5" y="76.6" width="9.3" height="8.6" fill="#5454ee"/>
<rect x="700.7" y="76.6" width="9.3" height="8.6" fill="#5454ee"/>
<rect x="709.8" y="76.6" width="9.3" height="8.6" fill="#0a0ae6"/>
<rect x="719.0" y="76.6" width="9.3" height="8.6" fill="#0a0ae6"/>
<rect x="728.1" y="76.6" width="9.3" height="8.6" fill="#5c5cf0"/>
<rect x="737.3" y="76.6" width="9.3" height="8.6" fill="#5c5cf0"/>
<rect x="746.5" y="76.6" width="9.3" height="8.6" fill="#8c8cf6"/>
<rect x="755.6" y="76.6" width="9.3" height="8.6" fill="#9494f7"/>
<rect x="691.50" y="85.7" width="9.16" height="8.4" fill="#fff" stroke="#222" stroke-width="0.8"/>
<text x="696.1" y="91.7" font-size="4.8" text-anchor="middle" font-weight="bold" fill="#333">1</text>
<rect x="700.66" y="85.7" width="9.16" height="8.4" fill="#fff" stroke="#222" stroke-width="0.8"/>
<text x="705.2" y="91.7" font-size="4.8" text-anchor="middle" font-weight="bold" fill="#333">2</text>
<rect x="709.83" y="85.7" width="9.16" height="8.4" fill="#fff" stroke="#222" stroke-width="0.8"/>
<text x="714.4" y="91.7" font-size="4.8" text-anchor="middle" font-weight="bold" fill="#333">3</text>
<rect x="718.99" y="85.7" width="9.16" height="8.4" fill="#fff" stroke="#222" stroke-width="0.8"/>
<text x="723.6" y="91.7" font-size="4.8" text-anchor="middle" font-weight="bold" fill="#333">4</text>
<rect x="728.15" y="85.7" width="9.16" height="8.4" fill="#fff" stroke="#222" stroke-width="0.8"/>
<text x="732.7" y="91.7" font-size="4.8" text-anchor="middle" font-weight="bold" fill="#333">5</text>
<rect x="737.31" y="85.7" width="9.16" height="8.4" fill="#fff" stroke="#222" stroke-width="0.8"/>
<text x="741.9" y="91.7" font-size="4.8" text-anchor="middle" font-weight="bold" fill="#333">6</text>
<rect x="746.47" y="85.7" width="9.16" height="8.4" fill="#fff" stroke="#222" stroke-width="0.8"/>
<text x="751.1" y="91.7" font-size="4.8" text-anchor="middle" font-weight="bold" fill="#333">7</text>
<rect x="755.64" y="85.7" width="9.16" height="8.4" fill="#fff" stroke="#222" stroke-width="0.8"/>
<text x="760.2" y="91.7" font-size="4.8" text-anchor="middle" font-weight="bold" fill="#333">8</text>
<text x="605.2" y="105.6" font-size="6.2" font-weight="bold" fill="#222">Legend</text>
<line x1="605.0" y1="108.0" x2="824.0" y2="108.0" stroke="#e2e2e2" stroke-width="0.6"/>
<text x="605.2" y="114.9" font-size="5.1" fill="#333">1. Colorectal Carcinoma vs. Normal</text>
<text x="611.4" y="121.3" font-size="5.1" font-style="italic" fill="#333">Grasdens Colon, Genome Biol, 2006</text>
<text x="605.2" y="129.1" font-size="5.1" fill="#333">2. Colorectal Carcinoma vs. Normal</text>
<text x="611.4" y="135.5" font-size="5.1" font-style="italic" fill="#333">Hong Colorectal, Clin Exp Metastasis, 2010</text>
<text x="605.2" y="141.8" font-size="5.1" fill="#333">3. Colon Mucinous Adenocarcinoma vs. Normal</text>
<text x="611.4" y="148.2" font-size="5.1" font-style="italic" fill="#333">Kaiser Colon, Genome Biol, 2007</text>
<text x="605.2" y="155.4" font-size="5.1" fill="#333">4. Colorectal Carcinoma vs. Normal</text>
<text x="611.4" y="161.8" font-size="5.1" font-style="italic" fill="#333">Skrzypczak Colorectal, PLoS One, 2010</text>
<text x="714.6" y="114.9" font-size="5.1" fill="#333">5. Colon Adenocarcinoma vs. Normal</text>
<text x="720.6" y="121.1" font-size="5.1" font-style="italic" fill="#333">TCGA Colorectal, No Associated Paper,</text>
<text x="720.6" y="127.3" font-size="5.1" font-style="italic" fill="#333">2011</text>
<text x="714.6" y="134.5" font-size="5.1" fill="#333">6. Colon Mucinous Adenocarcinoma vs. Normal</text>
<text x="720.6" y="140.3" font-size="5.1" font-style="italic" fill="#333">TCGA Colorectal, No Associated Paper,</text>
<text x="720.6" y="146.1" font-size="5.1" font-style="italic" fill="#333">2011</text>
<text x="714.6" y="153.8" font-size="5.1" fill="#333">7. Colon Adenocarcinoma vs. Normal</text>
<text x="720.6" y="159.9" font-size="5.1" font-style="italic" fill="#333">TCGA Colorectal 2, No Associated Paper,</text>
<text x="720.6" y="166.0" font-size="5.1" font-style="italic" fill="#333">2011</text>
<text x="714.6" y="173.2" font-size="5.1" fill="#333">8. Colon Mucinous Adenocarcinoma vs. Normal</text>
<text x="720.6" y="179.3" font-size="5.1" font-style="italic" fill="#333">TCGA Colorectal 2, No Associated Paper,</text>
<text x="720.6" y="185.3" font-size="5.1" font-style="italic" fill="#333">2011</text>
<rect x="604.6" y="201.6" width="5.4" height="5.4" fill="#0000c4" stroke="#333" stroke-width="0.6"/>
<text x="607.3" y="198.8" font-size="4.8" text-anchor="middle" fill="#222">1</text>
<rect x="613.0" y="201.6" width="5.4" height="5.4" fill="#5252dc" stroke="#333" stroke-width="0.6"/>
<text x="615.8" y="198.8" font-size="4.8" text-anchor="middle" fill="#222">5</text>
<rect x="621.5" y="201.6" width="5.4" height="5.4" fill="#8a8ae6" stroke="#333" stroke-width="0.6"/>
<text x="624.2" y="198.8" font-size="4.8" text-anchor="middle" fill="#222">10</text>
<rect x="629.9" y="201.6" width="5.4" height="5.4" fill="#cfcff6" stroke="#333" stroke-width="0.6"/>
<text x="632.6" y="198.8" font-size="4.8" text-anchor="middle" fill="#222">25</text>
<rect x="638.4" y="201.6" width="5.4" height="5.4" fill="#ffffff" stroke="#333" stroke-width="0.6"/>
<rect x="646.8" y="201.6" width="5.4" height="5.4" fill="#fadede" stroke="#333" stroke-width="0.6"/>
<text x="649.5" y="198.8" font-size="4.8" text-anchor="middle" fill="#222">25</text>
<rect x="655.3" y="201.6" width="5.4" height="5.4" fill="#f0a2a2" stroke="#333" stroke-width="0.6"/>
<text x="658.0" y="198.8" font-size="4.8" text-anchor="middle" fill="#222">10</text>
<rect x="663.7" y="201.6" width="5.4" height="5.4" fill="#e66464" stroke="#333" stroke-width="0.6"/>
<text x="666.4" y="198.8" font-size="4.8" text-anchor="middle" fill="#222">5</text>
<rect x="672.2" y="201.6" width="5.4" height="5.4" fill="#da1414" stroke="#333" stroke-width="0.6"/>
<text x="674.9" y="198.8" font-size="4.8" text-anchor="middle" fill="#222">1</text>
<rect x="684.7" y="201.6" width="5.4" height="5.4" fill="#c8c8c8" stroke="#333" stroke-width="0.6"/>
<text x="692.3" y="206.1" font-size="5.0" fill="#333">Not measured</text>
<line x1="607.5" y1="209.8" x2="637.0" y2="209.8" stroke="#222" stroke-width="0.6"/>
<path d="M605.6 209.8 l3 -1.3 v2.6z" fill="#222"/>
<line x1="647.0" y1="209.8" x2="676.5" y2="209.8" stroke="#222" stroke-width="0.6"/>
<path d="M678.4 209.8 l-3 -1.3 v2.6z" fill="#222"/>
<text x="642.0" y="211.8" font-size="3.8" text-anchor="middle" fill="#333">%</text>
<text x="606.1" y="219.2" font-size="4.48" fill="#222">The rank for a gene is the median rank for that gene across each of the analyses.</text>
<text x="606.1" y="222.8" font-size="4.48" fill="#222">The p-Value for a gene is its p-Value for the median-ranked analysis.</text>
</g>
<g id="panelD">
<text transform="translate(3.9,292.7) scale(0.77,1)" font-size="13" font-weight="bold" fill="#000" stroke="#000" stroke-width="0.3">D</text>
<text transform="translate(132.5,305.4) scale(0.9,1.08)" font-size="10" text-anchor="middle" font-weight="bold" fill="#111" stroke="#111" stroke-width="0.25" font-family='"Liberation Mono", monospace'>GSE39582-OS</text>
<line x1="44.5" y1="313.1" x2="44.5" y2="513.5" stroke="#6a6a6a" stroke-width="1.05"/>
<line x1="44.0" y1="513.0" x2="237.9" y2="513.0" stroke="#6a6a6a" stroke-width="1.05"/>
<line x1="42.9" y1="322.9" x2="44.5" y2="322.9" stroke="#333" stroke-width="0.6"/>
<text x="42.1" y="324.5" font-size="4.4" text-anchor="end" fill="#111">1.00</text>
<line x1="42.9" y1="367.8" x2="44.5" y2="367.8" stroke="#333" stroke-width="0.6"/>
<text x="42.1" y="369.4" font-size="4.4" text-anchor="end" fill="#111">0.75</text>
<line x1="42.9" y1="413.3" x2="44.5" y2="413.3" stroke="#333" stroke-width="0.6"/>
<text x="42.1" y="414.9" font-size="4.4" text-anchor="end" fill="#111">0.50</text>
<line x1="42.9" y1="458.5" x2="44.5" y2="458.5" stroke="#333" stroke-width="0.6"/>
<text x="42.1" y="460.1" font-size="4.4" text-anchor="end" fill="#111">0.25</text>
<line x1="42.9" y1="503.7" x2="44.5" y2="503.7" stroke="#333" stroke-width="0.6"/>
<text x="42.1" y="505.3" font-size="4.4" text-anchor="end" fill="#111">0.00</text>
<line x1="52.3" y1="513.0" x2="52.3" y2="514.6" stroke="#333" stroke-width="0.6"/>
<text x="52.3" y="519.2" font-size="4.5" text-anchor="middle" fill="#111">0</text>
<line x1="92.4" y1="513.0" x2="92.4" y2="514.6" stroke="#333" stroke-width="0.6"/>
<text x="92.4" y="519.2" font-size="4.5" text-anchor="middle" fill="#111">50</text>
<line x1="132.9" y1="513.0" x2="132.9" y2="514.6" stroke="#333" stroke-width="0.6"/>
<text x="132.9" y="519.2" font-size="4.5" text-anchor="middle" fill="#111">100</text>
<line x1="173.3" y1="513.0" x2="173.3" y2="514.6" stroke="#333" stroke-width="0.6"/>
<text x="173.3" y="519.2" font-size="4.5" text-anchor="middle" fill="#111">150</text>
<line x1="213.4" y1="513.0" x2="213.4" y2="514.6" stroke="#333" stroke-width="0.6"/>
<text x="213.4" y="519.2" font-size="4.5" text-anchor="middle" fill="#111">200</text>
<text x="141.0" y="523.9" font-size="5.3" text-anchor="middle" fill="#1a1a1a">Time</text>
<text transform="translate(29.2,413.3) rotate(-90)" font-size="5.0" text-anchor="middle" fill="#333">Survival probability</text>
<line x1="52.3" y1="413.4" x2="199.7" y2="413.4" stroke="#222" stroke-width="0.8" stroke-dasharray="0.9 1.4"/>
<line x1="110.8" y1="413.4" x2="110.8" y2="503.7" stroke="#222" stroke-width="0.8" stroke-dasharray="0.9 1.4"/>
<line x1="199.7" y1="404.0" x2="199.7" y2="503.7" stroke="#222" stroke-width="0.8" stroke-dasharray="0.9 1.4"/>
<path d="M52.1 323.2 H53.3 V325.6 H54.6 V328.1 H57.0 V330.5 H59.4 V332.9 H61.8 V337.0 H64.3 V341.4 H66.7 V347.5 H69.1 V353.5 H71.6 V358.4 H74.0 V363.3 H76.4 V366.9 H78.8 V370.5 H81.3 V374.2 H83.7 V377.8 H85.6 V382.7 H87.3 V387.5 H89.3 V390.7 H91.0 V393.6 H94.6 V394.8 H98.3 V396.0 H100.7 V398.4 H103.1 V400.9 H105.0 V404.0 H106.7 V406.9 H108.7 V410.1 H110.4 V413.0 H112.8 V416.7 H114.0 V422.7 H125.4 V422.7 H126.2 V429.3 H128.6 V429.3 H129.3 V435.3 H134.2 V435.3 H135.1 V442.1 H191.7 V442.1" fill="none" stroke="#d6736b" stroke-width="0.8" stroke-linejoin="miter"/>
<path d="M52.1 323.2 H54.1 V324.9 H57.0 V328.1 H59.4 V331.2 H61.8 V334.1 H64.3 V336.6 H66.7 V339.0 H69.1 V341.9 H71.6 V345.0 H74.0 V348.7 H76.4 V352.3 H78.8 V355.5 H81.3 V358.4 H83.7 V360.8 H86.1 V363.3 H88.5 V366.2 H91.0 V369.3 H93.4 V371.0 H95.8 V373.0 H99.5 V374.9 H103.1 V376.6 H106.7 V378.3 H110.4 V380.2 H114.0 V382.2 H117.7 V383.9 H121.3 V384.9 H125.0 V385.6 H128.6 V386.6 H132.2 V387.5 H137.1 V388.7 H137.6 V396.0 H168.6 V396.0 H169.1 V404.0 H199.7 V404.0 H199.7 V429.3 H214.8 V429.3" fill="none" stroke="#1daaa6" stroke-width="1.05" stroke-linejoin="miter"/>
<path d="M145.1 441.1v2M155.0 441.1v2M166.3 441.1v2M175.4 441.1v2M186.6 441.1v2" stroke="#d6736b" stroke-width="0.5" fill="none"/>
<path d="M202.8 428.3v2M205.5 428.3v2M209.8 428.3v2M212.2 428.3v2" stroke="#1daaa6" stroke-width="0.6" fill="none"/>
<path d="M140.6 395.0v2M142.3 395.0v2M144.7 395.0v2M147.7 395.0v2M150.9 395.0v2M151.9 395.0v2M154.5 395.0v2M157.7 395.0v2M160.7 395.0v2M162.3 395.0v2M164.4 395.0v2M167.9 395.0v2" stroke="#1daaa6" stroke-width="0.55" fill="none"/>
<path d="M171.5 403.0v2M177.3 403.0v2M179.2 403.0v2M182.3 403.0v2M185.7 403.0v2M189.7 403.0v2M194.6 403.0v2M196.3 403.0v2" stroke="#1daaa6" stroke-width="0.55" fill="none"/>
<path d="M120.6 386.0v2M123.6 386.0v2M126.0 386.0v2M129.3 386.0v2M131.1 386.0v2M134.1 386.0v2" stroke="#1daaa6" stroke-width="0.55" fill="none"/>
<line x1="160.1" y1="315.9" x2="163.8" y2="315.9" stroke="#d6736b" stroke-width="0.8"/>
<line x1="160.1" y1="326.1" x2="163.8" y2="326.1" stroke="#1daaa6" stroke-width="1.0"/>
<text x="167.4" y="318.4" font-size="5.8" font-weight="bold" fill="#111" stroke="#111" stroke-width="0.28">ACO2 Low</text>
<text x="167.4" y="328.5" font-size="5.8" font-weight="bold" fill="#111" stroke="#111" stroke-width="0.28">ACO2 High</text>
<text x="59.5" y="460.6" font-size="5.05" fill="#222">P=0.00052</text>
</g>
<g id="panelE">
<text transform="translate(270.0,291.8) scale(0.86,1)" font-size="13" font-weight="bold" fill="#000">E</text>
<text transform="translate(404.2,306.7) scale(0.9,1.08)" font-size="10" text-anchor="middle" font-weight="bold" fill="#111" stroke="#111" stroke-width="0.25" font-family='"Liberation Mono", monospace'>GSE39582-RFS</text>
<line x1="306.8" y1="312.5" x2="306.8" y2="512.5" stroke="#6a6a6a" stroke-width="1.05"/>
<line x1="306.3" y1="512.0" x2="501.0" y2="512.0" stroke="#6a6a6a" stroke-width="1.05"/>
<line x1="305.2" y1="321.8" x2="306.8" y2="321.8" stroke="#333" stroke-width="0.6"/>
<text x="304.4" y="323.4" font-size="4.4" text-anchor="end" fill="#111">1.00</text>
<line x1="305.2" y1="366.8" x2="306.8" y2="366.8" stroke="#333" stroke-width="0.6"/>
<text x="304.4" y="368.4" font-size="4.4" text-anchor="end" fill="#111">0.75</text>
<line x1="305.2" y1="412.2" x2="306.8" y2="412.2" stroke="#333" stroke-width="0.6"/>
<text x="304.4" y="413.8" font-size="4.4" text-anchor="end" fill="#111">0.50</text>
<line x1="305.2" y1="457.5" x2="306.8" y2="457.5" stroke="#333" stroke-width="0.6"/>
<text x="304.4" y="459.1" font-size="4.4" text-anchor="end" fill="#111">0.25</text>
<line x1="305.2" y1="502.7" x2="306.8" y2="502.7" stroke="#333" stroke-width="0.6"/>
<text x="304.4" y="504.3" font-size="4.4" text-anchor="end" fill="#111">0.00</text>
<line x1="315.5" y1="512.0" x2="315.5" y2="513.6" stroke="#333" stroke-width="0.6"/>
<text x="315.5" y="518.2" font-size="4.5" text-anchor="middle" fill="#111">0</text>
<line x1="355.6" y1="512.0" x2="355.6" y2="513.6" stroke="#333" stroke-width="0.6"/>
<text x="355.6" y="518.2" font-size="4.5" text-anchor="middle" fill="#111">50</text>
<line x1="396.1" y1="512.0" x2="396.1" y2="513.6" stroke="#333" stroke-width="0.6"/>
<text x="396.1" y="518.2" font-size="4.5" text-anchor="middle" fill="#111">100</text>
<line x1="436.2" y1="512.0" x2="436.2" y2="513.6" stroke="#333" stroke-width="0.6"/>
<text x="436.2" y="518.2" font-size="4.5" text-anchor="middle" fill="#111">150</text>
<line x1="476.3" y1="512.0" x2="476.3" y2="513.6" stroke="#333" stroke-width="0.6"/>
<text x="476.3" y="518.2" font-size="4.5" text-anchor="middle" fill="#111">200</text>
<text x="403.9" y="522.5" font-size="5.3" text-anchor="middle" fill="#1a1a1a">Time</text>
<text transform="translate(291.7,412.3) rotate(-90)" font-size="5.0" text-anchor="middle" fill="#333">Survival probability</text>
<line x1="315.3" y1="412.1" x2="390.6" y2="412.1" stroke="#222" stroke-width="0.8" stroke-dasharray="0.9 1.4"/>
<line x1="390.6" y1="412.1" x2="390.6" y2="502.7" stroke="#222" stroke-width="0.8" stroke-dasharray="0.9 1.4"/>
<path d="M315.3 329.3 H315.8 V337.8 H317.0 V342.6 H318.2 V346.3 H320.1 V348.7 H321.8 V351.1 H323.8 V353.5 H325.5 V356.0 H327.4 V358.9 H329.1 V362.0 H330.3 V373.0 H331.6 V377.8 H332.8 V382.7 H334.0 V385.1 H335.2 V387.5 H340.0 V388.3 H344.9 V388.7 H346.6 V391.2 H348.5 V393.6 H353.9 V394.1 H359.5 V394.3 H360.7 V396.5 H377.7 V396.5 H378.2 V403.8 H390.3 V403.8 H390.8 V416.2 H439.6 V416.2" fill="none" stroke="#d6736b" stroke-width="0.8" stroke-linejoin="miter"/>
<path d="M315.3 322.0 H315.8 V326.8 H317.5 V330.5 H319.4 V334.1 H321.4 V337.8 H323.1 V341.4 H325.0 V343.8 H326.7 V346.3 H328.6 V348.7 H330.3 V351.1 H332.0 V354.3 H334.0 V357.2 H335.9 V358.9 H337.6 V360.3 H341.3 V361.8 H344.9 V363.3 H348.1 V364.5 H351.0 V365.7 H354.6 V366.9 H358.3 V368.1 H359.5 V371.0 H478.4 V371.0" fill="none" stroke="#1daaa6" stroke-width="1.05" stroke-linejoin="miter"/>
<path d="M404.1 415.2v2M419.0 415.2v2M432.4 415.2v2" stroke="#d6736b" stroke-width="0.5" fill="none"/>
<path d="M363.0 370.0v2M367.4 370.0v2M371.1 370.0v2M374.7 370.0v2M379.6 370.0v2M383.3 370.0v2M386.3 370.0v2M390.8 370.0v2M394.6 370.0v2M399.2 370.0v2M402.8 370.0v2M405.8 370.0v2M411.1 370.0v2M413.3 370.0v2M417.8 370.0v2M422.4 370.0v2M425.1 370.0v2M429.6 370.0v2M432.6 370.0v2M437.8 370.0v2M441.9 370.0v2M445.4 370.0v2M449.9 370.0v2M452.7 370.0v2M457.3 370.0v2M461.0 370.0v2M464.9 370.0v2M468.6 370.0v2M473.2 370.0v2M477.3 370.0v2" stroke="#1daaa6" stroke-width="0.6" fill="none"/>
<line x1="444.9" y1="324.4" x2="449.3" y2="324.4" stroke="#d6736b" stroke-width="0.8"/>
<line x1="444.9" y1="334.6" x2="449.3" y2="334.6" stroke="#1daaa6" stroke-width="1.0"/>
<text x="452.9" y="326.9" font-size="5.8" font-weight="bold" fill="#111" stroke="#111" stroke-width="0.28">ACO2 Low</text>
<text x="452.9" y="337.0" font-size="5.8" font-weight="bold" fill="#111" stroke="#111" stroke-width="0.28">ACO2 High</text>
<text x="327.8" y="459.3" font-size="5.05" fill="#222">P=0.002</text>
</g>
<g id="panelF">
<text transform="translate(542.5,288.5) scale(0.86,1)" font-size="13" font-weight="bold" fill="#000">F</text>
<text transform="translate(677.7,306.7) scale(0.9,1.08)" font-size="10" text-anchor="middle" font-weight="bold" fill="#111" stroke="#111" stroke-width="0.25" font-family='"Liberation Mono", monospace'>GSE17536-OS</text>
<line x1="578.0" y1="312.5" x2="578.0" y2="512.9" stroke="#6a6a6a" stroke-width="1.05"/>
<line x1="577.5" y1="512.4" x2="772.7" y2="512.4" stroke="#6a6a6a" stroke-width="1.05"/>
<line x1="576.4" y1="321.2" x2="578.0" y2="321.2" stroke="#333" stroke-width="0.6"/>
<text x="575.6" y="322.8" font-size="4.4" text-anchor="end" fill="#111">1.00</text>
<line x1="576.4" y1="366.6" x2="578.0" y2="366.6" stroke="#333" stroke-width="0.6"/>
<text x="575.6" y="368.2" font-size="4.4" text-anchor="end" fill="#111">0.75</text>
<line x1="576.4" y1="411.9" x2="578.0" y2="411.9" stroke="#333" stroke-width="0.6"/>
<text x="575.6" y="413.5" font-size="4.4" text-anchor="end" fill="#111">0.50</text>
<line x1="576.4" y1="457.3" x2="578.0" y2="457.3" stroke="#333" stroke-width="0.6"/>
<text x="575.6" y="458.9" font-size="4.4" text-anchor="end" fill="#111">0.25</text>
<line x1="576.4" y1="502.9" x2="578.0" y2="502.9" stroke="#333" stroke-width="0.6"/>
<text x="575.6" y="504.5" font-size="4.4" text-anchor="end" fill="#111">0.00</text>
<line x1="586.9" y1="512.4" x2="586.9" y2="514.0" stroke="#333" stroke-width="0.6"/>
<text x="586.9" y="518.6" font-size="4.5" text-anchor="middle" fill="#111">0</text>
<line x1="645.8" y1="512.4" x2="645.8" y2="514.0" stroke="#333" stroke-width="0.6"/>
<text x="645.8" y="518.6" font-size="4.5" text-anchor="middle" fill="#111">50</text>
<line x1="704.8" y1="512.4" x2="704.8" y2="514.0" stroke="#333" stroke-width="0.6"/>
<text x="704.8" y="518.6" font-size="4.5" text-anchor="middle" fill="#111">100</text>
<line x1="763.7" y1="512.4" x2="763.7" y2="514.0" stroke="#333" stroke-width="0.6"/>
<text x="763.7" y="518.6" font-size="4.5" text-anchor="middle" fill="#111">150</text>
<text x="675.1" y="522.7" font-size="5.3" text-anchor="middle" fill="#1a1a1a">Time</text>
<text transform="translate(562.7,412.0) rotate(-90)" font-size="5.0" text-anchor="middle" fill="#333">Survival probability</text>
<line x1="586.9" y1="412.0" x2="619.3" y2="412.0" stroke="#222" stroke-width="0.8" stroke-dasharray="0.9 1.4"/>
<line x1="619.3" y1="412.0" x2="619.3" y2="502.9" stroke="#222" stroke-width="0.8" stroke-dasharray="0.9 1.4"/>
<path d="M587.0 321.5 H587.5 V329.3 H589.9 V329.3 H589.9 V339.7 H593.5 V339.7 H593.5 V348.7 H597.2 V348.7 H597.2 V357.9 H600.8 V357.9 H600.8 V366.9 H604.0 V366.9 H604.0 V375.9 H608.8 V375.9 H608.8 V385.1 H610.8 V385.1 H610.8 V395.5 H618.5 V395.5 H619.3 V415.0 H666.4 V415.0 H667.1 V426.4 H668.1 V438.5 H731.4 V438.5" fill="none" stroke="#d6736b" stroke-width="0.8" stroke-linejoin="miter"/>
<path d="M587.0 321.5 H613.0 V321.5 H613.0 V329.3 H618.5 V329.3 H618.5 V333.4 H627.5 V333.4 H627.5 V337.8 H641.1 V337.8 H641.1 V343.3 H643.3 V343.3 H643.3 V348.0 H648.9 V348.0 H648.9 V354.8 H651.8 V354.8 H651.8 V360.1 H664.2 V360.1 H664.2 V367.1 H676.8 V367.1 H676.8 V375.6 H737.5 V375.6" fill="none" stroke="#1daaa6" stroke-width="1.05" stroke-linejoin="miter"/>
<path d="M682.1 437.5v2M696.5 437.5v2M709.4 437.5v2M724.8 437.5v2" stroke="#d6736b" stroke-width="0.5" fill="none"/>
<path d="M683.5 374.6v2M690.6 374.6v2M696.6 374.6v2M701.9 374.6v2M708.5 374.6v2M715.5 374.6v2M720.6 374.6v2M727.8 374.6v2M733.6 374.6v2" stroke="#1daaa6" stroke-width="0.6" fill="none"/>
<path d="M591.1 320.5v2M599.2 320.5v2" stroke="#1daaa6" stroke-width="0.55" fill="none"/>
<path d="M616.8 328.3v2" stroke="#1daaa6" stroke-width="0.55" fill="none"/>
<path d="M620.5 332.4v2M624.5 332.4v2" stroke="#1daaa6" stroke-width="0.55" fill="none"/>
<path d="M629.9 336.8v2M635.5 336.8v2M637.0 336.8v2" stroke="#1daaa6" stroke-width="0.55" fill="none"/>
<path d="M654.2 359.1v2M658.1 359.1v2M662.7 359.1v2" stroke="#1daaa6" stroke-width="0.55" fill="none"/>
<path d="M668.4 366.1v2M671.8 366.1v2M673.6 366.1v2" stroke="#1daaa6" stroke-width="0.55" fill="none"/>
<path d="M623.1 414.0v2" stroke="#d6736b" stroke-width="0.55" fill="none"/>
<line x1="724.4" y1="322.7" x2="727.8" y2="322.7" stroke="#d6736b" stroke-width="0.8"/>
<line x1="724.4" y1="332.9" x2="727.8" y2="332.9" stroke="#1daaa6" stroke-width="1.0"/>
<text x="732.1" y="325.2" font-size="5.8" font-weight="bold" fill="#111" stroke="#111" stroke-width="0.28">ACO2 Low</text>
<text x="732.1" y="335.3" font-size="5.8" font-weight="bold" fill="#111" stroke="#111" stroke-width="0.28">ACO2 High</text>
<text x="589.0" y="459.1" font-size="5.05" fill="#222">P=0.00053</text>
</g>
<g id="panelG">
<text transform="translate(7.4,566.2) scale(0.77,1)" font-size="13" font-weight="bold" fill="#000" stroke="#000" stroke-width="0.3">G</text>
<text transform="translate(139.7,579.3) scale(0.9,1.08)" font-size="10" text-anchor="middle" font-weight="bold" fill="#111" stroke="#111" stroke-width="0.25" font-family='"Liberation Mono", monospace'>GSE17536-DFS</text>
<line x1="44.6" y1="591.9" x2="44.6" y2="791.7" stroke="#6a6a6a" stroke-width="1.05"/>
<line x1="44.1" y1="791.2" x2="238.9" y2="791.2" stroke="#6a6a6a" stroke-width="1.05"/>
<line x1="43.0" y1="601.1" x2="44.6" y2="601.1" stroke="#333" stroke-width="0.6"/>
<text x="42.2" y="602.7" font-size="4.4" text-anchor="end" fill="#111">1.00</text>
<line x1="43.0" y1="646.3" x2="44.6" y2="646.3" stroke="#333" stroke-width="0.6"/>
<text x="42.2" y="647.9" font-size="4.4" text-anchor="end" fill="#111">0.75</text>
<line x1="43.0" y1="691.5" x2="44.6" y2="691.5" stroke="#333" stroke-width="0.6"/>
<text x="42.2" y="693.1" font-size="4.4" text-anchor="end" fill="#111">0.50</text>
<line x1="43.0" y1="737.1" x2="44.6" y2="737.1" stroke="#333" stroke-width="0.6"/>
<text x="42.2" y="738.7" font-size="4.4" text-anchor="end" fill="#111">0.25</text>
<line x1="43.0" y1="782.2" x2="44.6" y2="782.2" stroke="#333" stroke-width="0.6"/>
<text x="42.2" y="783.8" font-size="4.4" text-anchor="end" fill="#111">0.00</text>
<line x1="53.7" y1="791.2" x2="53.7" y2="792.8" stroke="#333" stroke-width="0.6"/>
<text x="53.7" y="797.4" font-size="4.5" text-anchor="middle" fill="#111">0</text>
<line x1="112.5" y1="791.2" x2="112.5" y2="792.8" stroke="#333" stroke-width="0.6"/>
<text x="112.5" y="797.4" font-size="4.5" text-anchor="middle" fill="#111">50</text>
<line x1="171.3" y1="791.2" x2="171.3" y2="792.8" stroke="#333" stroke-width="0.6"/>
<text x="171.3" y="797.4" font-size="4.5" text-anchor="middle" fill="#111">100</text>
<line x1="230.4" y1="791.2" x2="230.4" y2="792.8" stroke="#333" stroke-width="0.6"/>
<text x="230.4" y="797.4" font-size="4.5" text-anchor="middle" fill="#111">150</text>
<text x="141.0" y="801.7" font-size="5.3" text-anchor="middle" fill="#1a1a1a">Time</text>
<text transform="translate(29.2,697.5) rotate(-90)" font-size="5.0" text-anchor="middle" fill="#333">Survival probability</text>
<path d="M53.8 601.0 H57.0 V601.0 H57.0 V603.6 H60.6 V605.3 H63.1 V609.0 H64.3 V613.8 H65.5 V618.2 H67.9 V621.1 H76.4 V621.1 H77.6 V624.8 H78.8 V632.0 H80.8 V638.1 H83.2 V643.0 H84.9 V646.6 H89.8 V647.3 H90.5 V650.7 H97.0 V650.7 H97.5 V658.7 H101.2 V658.7 H101.9 V662.9 H163.8 V662.9 H164.3 V682.5 H222.0 V682.5" fill="none" stroke="#d6736b" stroke-width="0.8" stroke-linejoin="miter"/>
<path d="M53.8 601.0 H68.4 V601.0 H68.4 V605.3 H70.3 V605.3 H70.3 V610.2 H74.0 V610.2 H74.0 V613.8 H78.8 V613.8 H78.8 V618.2 H85.6 V618.2 H85.6 V624.3 H192.4 V624.3" fill="none" stroke="#1daaa6" stroke-width="1.05" stroke-linejoin="miter"/>
<path d="M174.5 681.5v2M186.0 681.5v2M196.7 681.5v2M205.6 681.5v2M216.1 681.5v2" stroke="#d6736b" stroke-width="0.5" fill="none"/>
<path d="M92.5 623.3v2M99.8 623.3v2M107.7 623.3v2M115.3 623.3v2M122.0 623.3v2M128.8 623.3v2M137.0 623.3v2M144.3 623.3v2M152.1 623.3v2M160.2 623.3v2M167.0 623.3v2M174.0 623.3v2M181.6 623.3v2M189.1 623.3v2" stroke="#1daaa6" stroke-width="0.6" fill="none"/>
<path d="M105.2 661.9v2M112.8 661.9v2M116.8 661.9v2M121.7 661.9v2M125.9 661.9v2M128.9 661.9v2M133.5 661.9v2M136.9 661.9v2M143.3 661.9v2M145.7 661.9v2M150.3 661.9v2" stroke="#d6736b" stroke-width="0.55" fill="none"/>
<line x1="191.7" y1="591.8" x2="194.9" y2="591.8" stroke="#d6736b" stroke-width="0.8"/>
<line x1="191.7" y1="601.8" x2="194.9" y2="601.8" stroke="#1daaa6" stroke-width="1.0"/>
<text x="199.0" y="594.3" font-size="5.8" font-weight="bold" fill="#111" stroke="#111" stroke-width="0.28">ACO2 Low</text>
<text x="199.0" y="604.2" font-size="5.8" font-weight="bold" fill="#111" stroke="#111" stroke-width="0.28">ACO2 High</text>
<text x="57.1" y="738.1" font-size="5.05" fill="#222">P=0.022</text>
</g>
<g id="panelH">
<text transform="translate(270.0,562.5) scale(0.77,1)" font-size="13.5" font-weight="bold" fill="#000" stroke="#000" stroke-width="0.3">H</text>
<text transform="translate(405.2,581.7) scale(0.9,1.08)" font-size="10" text-anchor="middle" font-weight="bold" fill="#111" stroke="#111" stroke-width="0.25" font-family='"Liberation Mono", monospace'>GSE17536-DSS</text>
<line x1="306.8" y1="593.0" x2="306.8" y2="792.3" stroke="#6a6a6a" stroke-width="1.05"/>
<line x1="306.3" y1="791.8" x2="501.0" y2="791.8" stroke="#6a6a6a" stroke-width="1.05"/>
<line x1="305.2" y1="602.0" x2="306.8" y2="602.0" stroke="#333" stroke-width="0.6"/>
<text x="304.4" y="603.6" font-size="4.4" text-anchor="end" fill="#111">1.00</text>
<line x1="305.2" y1="647.2" x2="306.8" y2="647.2" stroke="#333" stroke-width="0.6"/>
<text x="304.4" y="648.8" font-size="4.4" text-anchor="end" fill="#111">0.75</text>
<line x1="305.2" y1="692.5" x2="306.8" y2="692.5" stroke="#333" stroke-width="0.6"/>
<text x="304.4" y="694.1" font-size="4.4" text-anchor="end" fill="#111">0.50</text>
<line x1="305.2" y1="737.7" x2="306.8" y2="737.7" stroke="#333" stroke-width="0.6"/>
<text x="304.4" y="739.3" font-size="4.4" text-anchor="end" fill="#111">0.25</text>
<line x1="305.2" y1="782.9" x2="306.8" y2="782.9" stroke="#333" stroke-width="0.6"/>
<text x="304.4" y="784.5" font-size="4.4" text-anchor="end" fill="#111">0.00</text>
<line x1="315.5" y1="791.8" x2="315.5" y2="793.4" stroke="#333" stroke-width="0.6"/>
<text x="315.5" y="798.0" font-size="4.5" text-anchor="middle" fill="#111">0</text>
<line x1="374.3" y1="791.8" x2="374.3" y2="793.4" stroke="#333" stroke-width="0.6"/>
<text x="374.3" y="798.0" font-size="4.5" text-anchor="middle" fill="#111">50</text>
<line x1="433.4" y1="791.8" x2="433.4" y2="793.4" stroke="#333" stroke-width="0.6"/>
<text x="433.4" y="798.0" font-size="4.5" text-anchor="middle" fill="#111">100</text>
<line x1="492.2" y1="791.8" x2="492.2" y2="793.4" stroke="#333" stroke-width="0.6"/>
<text x="492.2" y="798.0" font-size="4.5" text-anchor="middle" fill="#111">150</text>
<text x="403.9" y="803.1" font-size="5.3" text-anchor="middle" fill="#1a1a1a">Time</text>
<text transform="translate(292.7,692.5) rotate(-90)" font-size="5.0" text-anchor="middle" fill="#333">Survival probability</text>
<line x1="315.8" y1="692.5" x2="396.4" y2="692.5" stroke="#222" stroke-width="0.8" stroke-dasharray="0.9 1.4"/>
<line x1="396.4" y1="692.5" x2="396.4" y2="782.9" stroke="#222" stroke-width="0.8" stroke-dasharray="0.9 1.4"/>
<path d="M315.8 601.7 H316.5 V610.2 H318.9 V611.4 H319.4 V619.9 H322.3 V621.1 H322.3 V629.1 H325.5 V629.6 H326.0 V638.1 H328.6 V638.6 H329.1 V647.1 H332.0 V647.8 H332.3 V656.3 H336.9 V656.8 H337.4 V666.0 H347.3 V666.0 H347.8 V677.7 H394.7 V677.7 H395.1 V691.5 H396.6 V692.0 H396.6 V706.1 H460.2 V706.1" fill="none" stroke="#d6736b" stroke-width="0.8" stroke-linejoin="miter"/>
<path d="M315.8 601.7 H317.5 V605.3 H319.4 V607.3 H324.3 V607.3 H324.3 V609.7 H332.8 V609.7 H332.8 V616.3 H335.2 V618.7 H337.6 V623.5 H341.3 V626.0 H342.5 V629.1 H355.8 V629.1 H355.8 V632.5 H369.2 V632.5 H369.2 V636.4 H377.2 V636.4 H377.7 V641.3 H405.6 V641.3 H405.6 V649.8 H470.4 V649.8" fill="none" stroke="#1daaa6" stroke-width="1.05" stroke-linejoin="miter"/>
<path d="M410.2 705.1v2M424.2 705.1v2M438.7 705.1v2M452.2 705.1v2" stroke="#d6736b" stroke-width="0.5" fill="none"/>
<path d="M409.1 648.8v2M413.8 648.8v2M418.2 648.8v2M423.2 648.8v2M427.0 648.8v2M433.1 648.8v2M437.1 648.8v2M440.6 648.8v2M445.3 648.8v2M450.0 648.8v2M454.5 648.8v2M458.5 648.8v2M464.4 648.8v2M469.1 648.8v2" stroke="#1daaa6" stroke-width="0.6" fill="none"/>
<path d="M344.6 628.1v2M347.7 628.1v2M349.8 628.1v2M352.9 628.1v2" stroke="#1daaa6" stroke-width="0.55" fill="none"/>
<path d="M358.1 631.5v2M360.9 631.5v2M365.1 631.5v2M366.4 631.5v2" stroke="#1daaa6" stroke-width="0.55" fill="none"/>
<path d="M370.8 635.4v2M376.3 635.4v2" stroke="#1daaa6" stroke-width="0.55" fill="none"/>
<path d="M380.6 640.3v2M382.8 640.3v2M387.1 640.3v2M389.0 640.3v2M393.6 640.3v2M398.0 640.3v2M400.9 640.3v2M403.7 640.3v2" stroke="#1daaa6" stroke-width="0.55" fill="none"/>
<path d="M351.6 676.7v2" stroke="#d6736b" stroke-width="0.55" fill="none"/>
<line x1="452.4" y1="592.7" x2="455.8" y2="592.7" stroke="#d6736b" stroke-width="0.8"/>
<line x1="452.4" y1="602.9" x2="455.8" y2="602.9" stroke="#1daaa6" stroke-width="1.0"/>
<text x="460.2" y="595.2" font-size="5.8" font-weight="bold" fill="#111" stroke="#111" stroke-width="0.28">ACO2 Low</text>
<text x="460.2" y="605.3" font-size="5.8" font-weight="bold" fill="#111" stroke="#111" stroke-width="0.28">ACO2 High</text>
<text x="325.0" y="740.5" font-size="5.05" fill="#222">P=0.0079</text>
</g>
<g id="panelI">
<text transform="translate(544.6,561.7) scale(0.86,1)" font-size="13" font-weight="bold" fill="#000">I</text>
<text transform="translate(677.9,582.1) scale(0.9,1.08)" font-size="10" text-anchor="middle" font-weight="bold" fill="#111" stroke="#111" stroke-width="0.25" font-family='"Liberation Mono", monospace'>GSE17538-DSS</text>
<line x1="577.9" y1="594.2" x2="577.9" y2="793.8" stroke="#6a6a6a" stroke-width="1.05"/>
<line x1="577.4" y1="793.3" x2="771.6" y2="793.3" stroke="#6a6a6a" stroke-width="1.05"/>
<line x1="576.3" y1="603.3" x2="577.9" y2="603.3" stroke="#333" stroke-width="0.6"/>
<text x="575.5" y="604.9" font-size="4.4" text-anchor="end" fill="#111">1.00</text>
<line x1="576.3" y1="648.3" x2="577.9" y2="648.3" stroke="#333" stroke-width="0.6"/>
<text x="575.5" y="649.9" font-size="4.4" text-anchor="end" fill="#111">0.75</text>
<line x1="576.3" y1="693.6" x2="577.9" y2="693.6" stroke="#333" stroke-width="0.6"/>
<text x="575.5" y="695.2" font-size="4.4" text-anchor="end" fill="#111">0.50</text>
<line x1="576.3" y1="739.1" x2="577.9" y2="739.1" stroke="#333" stroke-width="0.6"/>
<text x="575.5" y="740.7" font-size="4.4" text-anchor="end" fill="#111">0.25</text>
<line x1="576.3" y1="784.2" x2="577.9" y2="784.2" stroke="#333" stroke-width="0.6"/>
<text x="575.5" y="785.8" font-size="4.4" text-anchor="end" fill="#111">0.00</text>
<line x1="586.9" y1="793.3" x2="586.9" y2="794.9" stroke="#333" stroke-width="0.6"/>
<text x="586.9" y="799.5" font-size="4.5" text-anchor="middle" fill="#111">0</text>
<line x1="645.8" y1="793.3" x2="645.8" y2="794.9" stroke="#333" stroke-width="0.6"/>
<text x="645.8" y="799.5" font-size="4.5" text-anchor="middle" fill="#111">50</text>
<line x1="704.8" y1="793.3" x2="704.8" y2="794.9" stroke="#333" stroke-width="0.6"/>
<text x="704.8" y="799.5" font-size="4.5" text-anchor="middle" fill="#111">100</text>
<line x1="763.7" y1="793.3" x2="763.7" y2="794.9" stroke="#333" stroke-width="0.6"/>
<text x="763.7" y="799.5" font-size="4.5" text-anchor="middle" fill="#111">150</text>
<text x="675.1" y="804.1" font-size="5.3" text-anchor="middle" fill="#1a1a1a">Time</text>
<text transform="translate(562.7,693.6) rotate(-90)" font-size="5.0" text-anchor="middle" fill="#333">Survival probability</text>
<line x1="586.9" y1="693.7" x2="626.6" y2="693.7" stroke="#222" stroke-width="0.8" stroke-dasharray="0.9 1.4"/>
<line x1="626.6" y1="693.7" x2="626.6" y2="784.2" stroke="#222" stroke-width="0.8" stroke-dasharray="0.9 1.4"/>
<path d="M587.0 603.4 H587.5 V612.6 H589.9 V613.1 H590.1 V624.3 H593.5 V624.8 H593.8 V635.0 H596.7 V635.2 H597.2 V645.4 H600.3 V645.9 H600.8 V656.3 H603.3 V656.8 H603.7 V666.7 H618.5 V666.7 H619.0 V679.9 H626.3 V679.9 H626.8 V694.7 H666.6 V694.7 H667.6 V712.9 H731.4 V712.9" fill="none" stroke="#d6736b" stroke-width="0.8" stroke-linejoin="miter"/>
<path d="M587.0 603.4 H588.9 V607.3 H591.8 V611.4 H593.8 V615.0 H596.7 V616.7 H603.5 V616.7 H604.0 V619.9 H605.9 V624.8 H608.3 V627.9 H610.0 V632.0 H613.2 V633.3 H613.7 V636.2 H624.6 V636.2 H625.3 V638.6 H627.8 V641.3 H640.4 V641.7 H640.9 V645.4 H644.0 V645.9 H644.8 V649.0 H648.2 V649.5 H648.9 V652.7 H669.0 V652.7 H669.5 V658.7 H676.3 V658.7 H676.8 V666.5 H741.1 V666.5" fill="none" stroke="#1daaa6" stroke-width="1.05" stroke-linejoin="miter"/>
<path d="M681.5 711.9v2M695.3 711.9v2M710.7 711.9v2M724.4 711.9v2" stroke="#d6736b" stroke-width="0.5" fill="none"/>
<path d="M683.5 665.5v2M688.7 665.5v2M694.6 665.5v2M701.9 665.5v2M708.4 665.5v2M714.3 665.5v2M720.3 665.5v2M726.4 665.5v2M732.4 665.5v2M737.5 665.5v2" stroke="#1daaa6" stroke-width="0.6" fill="none"/>
<path d="M616.4 635.2v2M619.0 635.2v2M621.3 635.2v2" stroke="#1daaa6" stroke-width="0.55" fill="none"/>
<path d="M628.5 640.5v2M631.3 640.5v2M633.6 640.5v2M636.8 640.5v2M639.6 640.5v2" stroke="#1daaa6" stroke-width="0.55" fill="none"/>
<path d="M651.5 651.7v2M655.7 651.7v2M658.9 651.7v2M661.8 651.7v2M663.4 651.7v2M666.1 651.7v2" stroke="#1daaa6" stroke-width="0.55" fill="none"/>
<path d="M671.2 657.7v2M673.8 657.7v2" stroke="#1daaa6" stroke-width="0.55" fill="none"/>
<path d="M606.8 665.7v2" stroke="#d6736b" stroke-width="0.55" fill="none"/>
<line x1="720.5" y1="606.1" x2="724.1" y2="606.1" stroke="#d6736b" stroke-width="0.8"/>
<line x1="720.5" y1="616.3" x2="724.1" y2="616.3" stroke="#1daaa6" stroke-width="1.0"/>
<text x="727.8" y="608.6" font-size="5.8" font-weight="bold" fill="#111" stroke="#111" stroke-width="0.28">ACO2 Low</text>
<text x="727.8" y="618.7" font-size="5.8" font-weight="bold" fill="#111" stroke="#111" stroke-width="0.28">ACO2 High</text>
<text x="593.4" y="739.8" font-size="5.05" fill="#222">P=0.021</text>
</g>
</svg></body></html>
